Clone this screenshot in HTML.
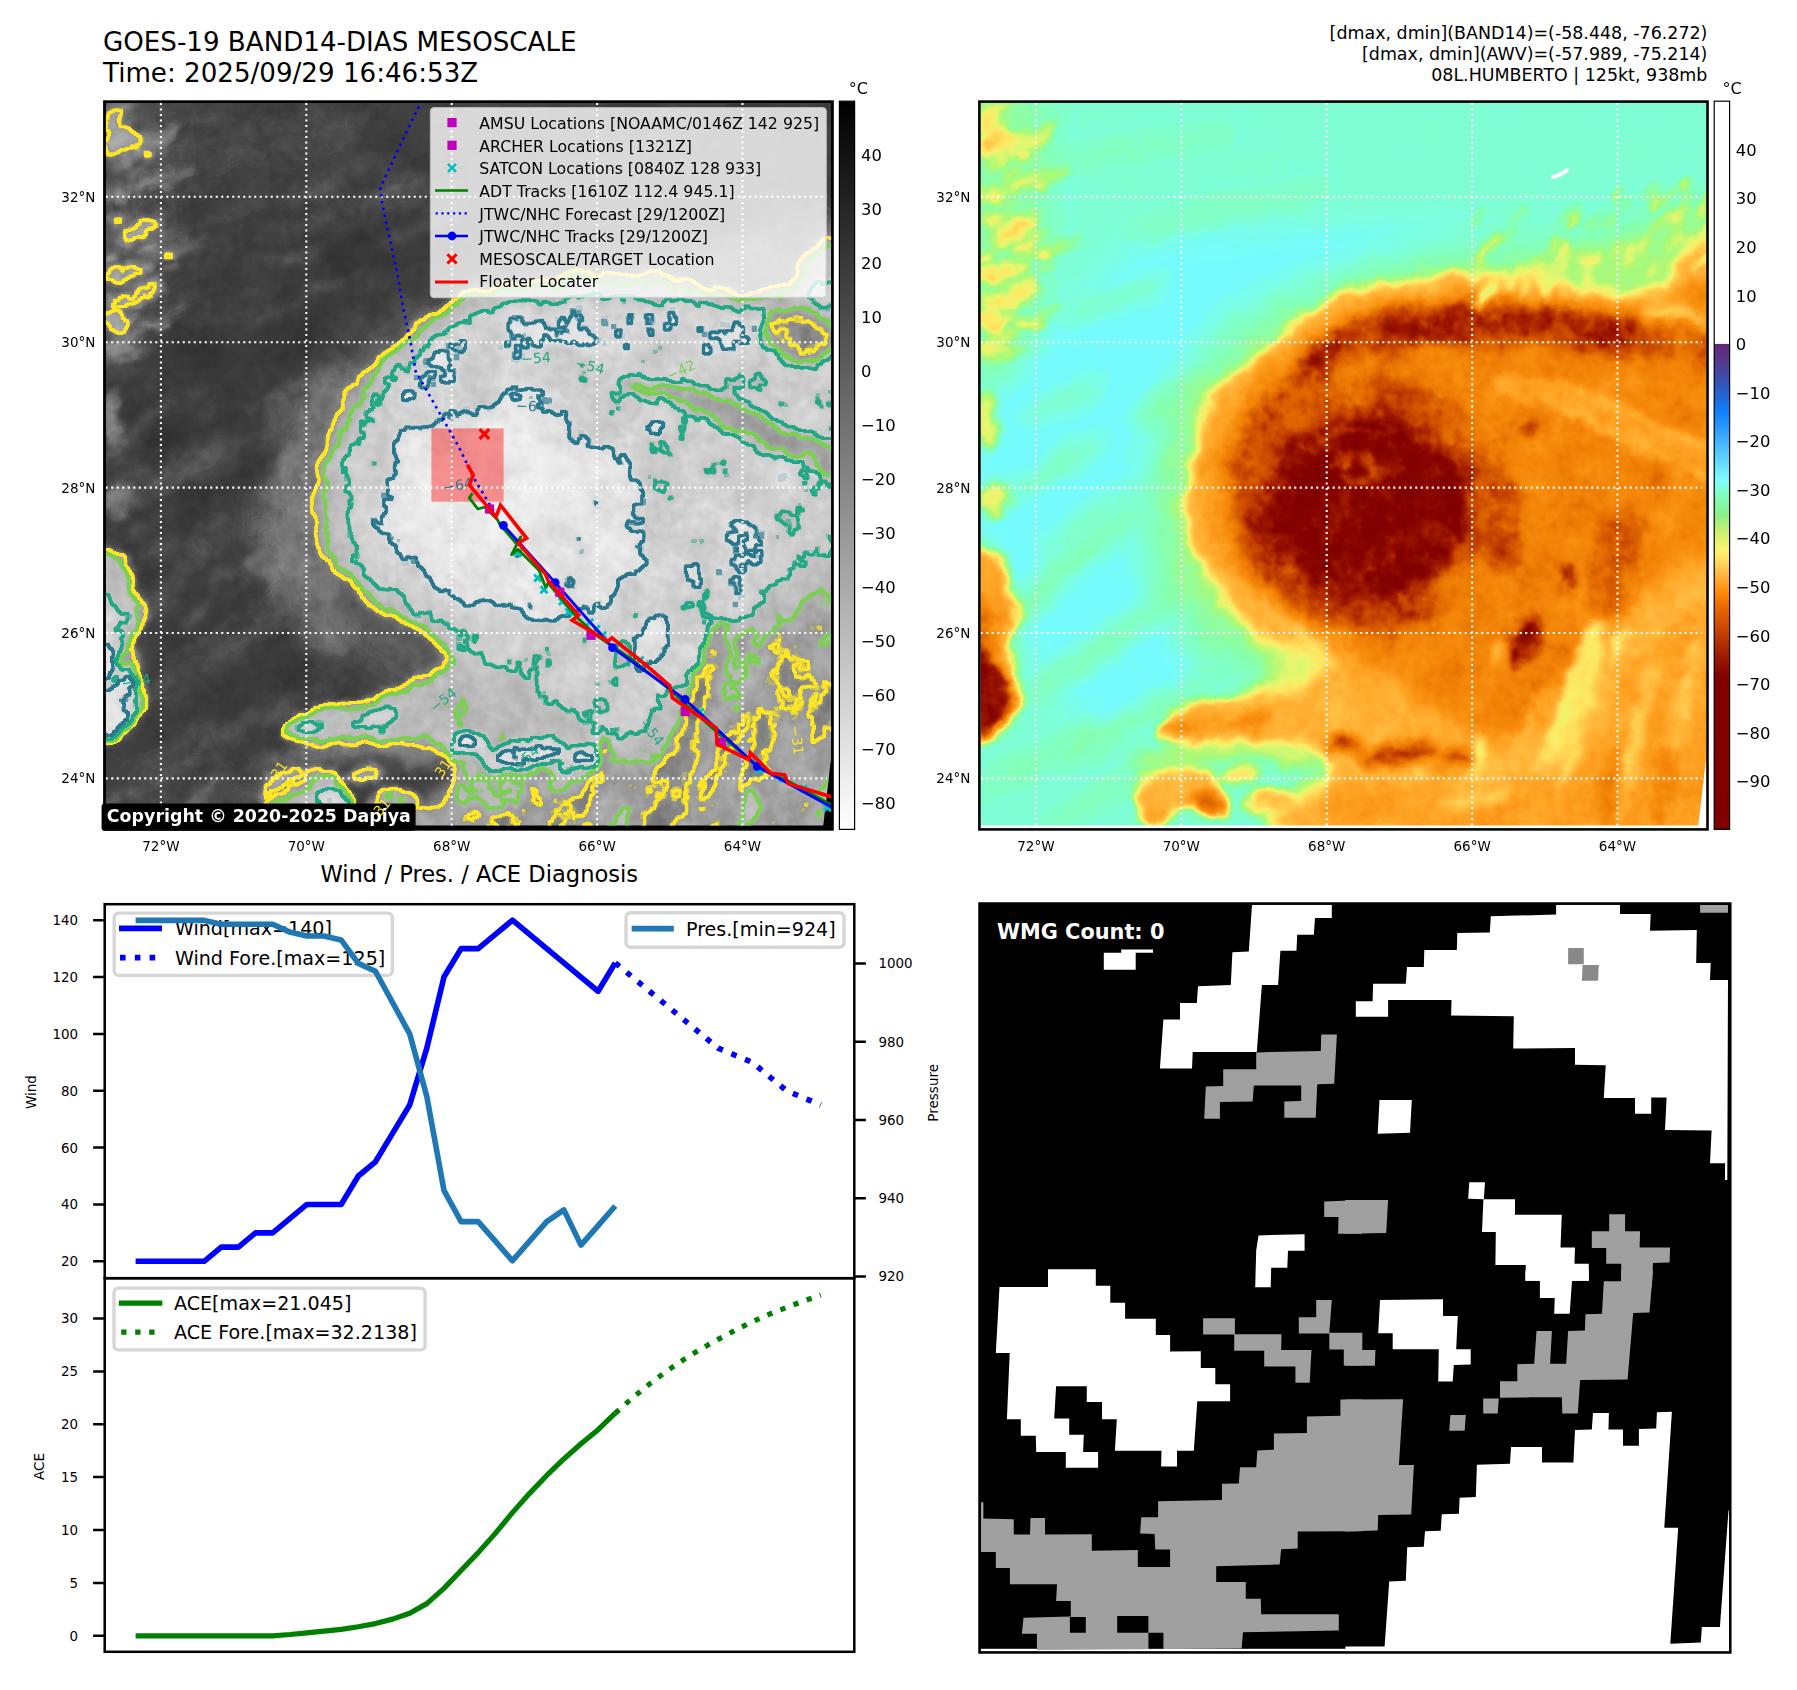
<!DOCTYPE html>
<html><head><meta charset="utf-8"><title>GOES-19 BAND14-DIAS MESOSCALE</title>
<style>html,body{margin:0;padding:0;background:#fff;overflow:hidden;} svg{display:block;} text{font-family:'DejaVu Sans','Liberation Sans',sans-serif;}</style>
</head><body>
<svg width="1797" height="1690" viewBox="0 0 1797 1690">
<rect width="1797" height="1690" fill="#fff"/>
<text x="103.00" y="51.30" font-size="26.13" text-anchor="start" fill="#000" >GOES-19 BAND14-DIAS MESOSCALE</text>
<text x="103.00" y="81.60" font-size="26.13" text-anchor="start" fill="#000" >Time: 2025/09/29 16:46:53Z</text>
<text x="1707.40" y="38.90" font-size="17.45" text-anchor="end" fill="#000" >[dmax, dmin](BAND14)=(-58.448, -76.272)</text>
<text x="1707.40" y="59.80" font-size="17.45" text-anchor="end" fill="#000" >[dmax, dmin](AWV)=(-57.989, -75.214)</text>
<text x="1707.40" y="80.90" font-size="17.45" text-anchor="end" fill="#000" >08L.HUMBERTO | 125kt, 938mb</text>
<defs><filter id="b2" x="-30%" y="-30%" width="160%" height="160%"><feGaussianBlur stdDeviation="2"/></filter><filter id="b3" x="-30%" y="-30%" width="160%" height="160%"><feGaussianBlur stdDeviation="3"/></filter><filter id="b4" x="-30%" y="-30%" width="160%" height="160%"><feGaussianBlur stdDeviation="4"/></filter><filter id="b5" x="-30%" y="-30%" width="160%" height="160%"><feGaussianBlur stdDeviation="5"/></filter><filter id="b6" x="-30%" y="-30%" width="160%" height="160%"><feGaussianBlur stdDeviation="6"/></filter><filter id="b8" x="-30%" y="-30%" width="160%" height="160%"><feGaussianBlur stdDeviation="8"/></filter><filter id="b10" x="-30%" y="-30%" width="160%" height="160%"><feGaussianBlur stdDeviation="10"/></filter><filter id="b12" x="-30%" y="-30%" width="160%" height="160%"><feGaussianBlur stdDeviation="12"/></filter><filter id="b14" x="-30%" y="-30%" width="160%" height="160%"><feGaussianBlur stdDeviation="14"/></filter><filter id="b16" x="-30%" y="-30%" width="160%" height="160%"><feGaussianBlur stdDeviation="16"/></filter><filter id="b20" x="-30%" y="-30%" width="160%" height="160%"><feGaussianBlur stdDeviation="20"/></filter><filter id="b25" x="-30%" y="-30%" width="160%" height="160%"><feGaussianBlur stdDeviation="25"/></filter><filter id="b40" x="-30%" y="-30%" width="160%" height="160%"><feGaussianBlur stdDeviation="40"/></filter><filter id="fL" filterUnits="userSpaceOnUse" x="92" y="90" width="750" height="750" color-interpolation-filters="sRGB"><feTurbulence type="fractalNoise" baseFrequency="0.035" numOctaves="3" seed="11" result="dn"/><feDisplacementMap in="SourceGraphic" in2="dn" scale="16" xChannelSelector="R" yChannelSelector="G" result="SG"/><feTurbulence type="fractalNoise" baseFrequency="0.022" numOctaves="2" seed="7" result="n0"/><feTurbulence type="fractalNoise" baseFrequency="0.09" numOctaves="2" seed="3" result="n1"/><feComposite in="n0" in2="n1" operator="arithmetic" k2="0.6" k3="0.4" result="n2"/><feColorMatrix in="n2" type="matrix" values="1 0 0 0 0  1 0 0 0 0  1 0 0 0 0  0 0 0 0 1" result="n"/><feComposite in="SG" in2="n" operator="arithmetic" k1="0.55" k2="0.725" k3="0" k4="0" result="F"/><feComponentTransfer in="F" result="G0"><feFuncR type="table" tableValues="0.2200 0.2307 0.2414 0.2540 0.2740 0.2981 0.3387 0.3794 0.4200 0.4600 0.5000 0.5400 0.5800 0.6050 0.6300 0.6550 0.6800 0.7031 0.7188 0.7344 0.7500 0.7625 0.7750 0.7875 0.8000 0.8125 0.8250 0.8375 0.8500 0.8619 0.8712 0.8806 0.8900 0.8962 0.9025 0.9088 0.9150 0.9188 0.9225 0.9263 0.9300"/><feFuncG type="table" tableValues="0.2200 0.2307 0.2414 0.2540 0.2740 0.2981 0.3387 0.3794 0.4200 0.4600 0.5000 0.5400 0.5800 0.6050 0.6300 0.6550 0.6800 0.7031 0.7188 0.7344 0.7500 0.7625 0.7750 0.7875 0.8000 0.8125 0.8250 0.8375 0.8500 0.8619 0.8712 0.8806 0.8900 0.8962 0.9025 0.9088 0.9150 0.9188 0.9225 0.9263 0.9300"/><feFuncB type="table" tableValues="0.2200 0.2307 0.2414 0.2540 0.2740 0.2981 0.3387 0.3794 0.4200 0.4600 0.5000 0.5400 0.5800 0.6050 0.6300 0.6550 0.6800 0.7031 0.7188 0.7344 0.7500 0.7625 0.7750 0.7875 0.8000 0.8125 0.8250 0.8375 0.8500 0.8619 0.8712 0.8806 0.8900 0.8962 0.9025 0.9088 0.9150 0.9188 0.9225 0.9263 0.9300"/></feComponentTransfer><feComposite in="G0" in2="n" operator="arithmetic" k2="1" k3="0.12" k4="-0.06" result="G"/></filter><filter id="fLc" filterUnits="userSpaceOnUse" x="92" y="90" width="750" height="750" color-interpolation-filters="sRGB"><feTurbulence type="fractalNoise" baseFrequency="0.035" numOctaves="3" seed="11" result="dn"/><feDisplacementMap in="SourceGraphic" in2="dn" scale="16" xChannelSelector="R" yChannelSelector="G" result="SG"/><feTurbulence type="fractalNoise" baseFrequency="0.022" numOctaves="2" seed="7" result="n0"/><feTurbulence type="fractalNoise" baseFrequency="0.09" numOctaves="2" seed="3" result="n1"/><feComposite in="n0" in2="n1" operator="arithmetic" k2="0.6" k3="0.4" result="n2"/><feColorMatrix in="n2" type="matrix" values="1 0 0 0 0  1 0 0 0 0  1 0 0 0 0  0 0 0 0 1" result="n"/><feComposite in="SG" in2="n" operator="arithmetic" k1="0.55" k2="0.725" k3="0" k4="0" result="F"/><feColorMatrix in="F" type="matrix" values="0 0 0 0 0  0 0 0 0 0  0 0 0 0 0  1 0 0 0 0" result="FA"/><feComponentTransfer in="FA" result="M0"><feFuncA type="linear" slope="120" intercept="-36.000"/></feComponentTransfer><feMorphology in="M0" operator="dilate" radius="1.5" result="D0"/><feMorphology in="M0" operator="erode" radius="1" result="E0"/><feComposite in="D0" in2="E0" operator="out" result="R0"/><feFlood flood-color="#fde725" result="fl0"/><feComposite in="fl0" in2="R0" operator="in" result="C0"/><feComponentTransfer in="FA" result="M1"><feFuncA type="linear" slope="120" intercept="-50.400"/></feComponentTransfer><feMorphology in="M1" operator="dilate" radius="1.5" result="D1"/><feMorphology in="M1" operator="erode" radius="1" result="E1"/><feComposite in="D1" in2="E1" operator="out" result="R1"/><feFlood flood-color="#7ad151" result="fl1"/><feComposite in="fl1" in2="R1" operator="in" result="C1"/><feComponentTransfer in="FA" result="M2"><feFuncA type="linear" slope="120" intercept="-67.200"/></feComponentTransfer><feMorphology in="M2" operator="dilate" radius="1.5" result="D2"/><feMorphology in="M2" operator="erode" radius="1" result="E2"/><feComposite in="D2" in2="E2" operator="out" result="R2"/><feFlood flood-color="#22a884" result="fl2"/><feComposite in="fl2" in2="R2" operator="in" result="C2"/><feComponentTransfer in="FA" result="M3"><feFuncA type="linear" slope="120" intercept="-86.400"/></feComponentTransfer><feMorphology in="M3" operator="dilate" radius="1.5" result="D3"/><feMorphology in="M3" operator="erode" radius="1" result="E3"/><feComposite in="D3" in2="E3" operator="out" result="R3"/><feFlood flood-color="#2a788e" result="fl3"/><feComposite in="fl3" in2="R3" operator="in" result="C3"/><feMerge><feMergeNode in="C0"/><feMergeNode in="C1"/><feMergeNode in="C2"/><feMergeNode in="C3"/></feMerge></filter><filter id="fR" filterUnits="userSpaceOnUse" x="92" y="90" width="750" height="750" color-interpolation-filters="sRGB"><feTurbulence type="fractalNoise" baseFrequency="0.035" numOctaves="3" seed="11" result="dn"/><feDisplacementMap in="SourceGraphic" in2="dn" scale="16" xChannelSelector="R" yChannelSelector="G" result="SG"/><feTurbulence type="fractalNoise" baseFrequency="0.022" numOctaves="2" seed="7" result="n0"/><feTurbulence type="fractalNoise" baseFrequency="0.09" numOctaves="2" seed="3" result="n1"/><feComposite in="n0" in2="n1" operator="arithmetic" k2="0.6" k3="0.4" result="n2"/><feColorMatrix in="n2" type="matrix" values="1 0 0 0 0  1 0 0 0 0  1 0 0 0 0  0 0 0 0 1" result="n"/><feComposite in="SG" in2="n" operator="arithmetic" k1="0.4" k2="0.8" k3="0" k4="0" result="F"/><feComponentTransfer in="F"><feFuncR type="table" tableValues="0.4627 0.4768 0.4908 0.5033 0.5098 0.5163 0.5602 0.6134 0.6667 0.7463 0.8260 0.9056 0.9477 0.9804 1.0000 1.0000 1.0000 1.0000 1.0000 1.0000 1.0000 0.9914 0.9828 0.9743 0.9621 0.9490 0.9294 0.9000 0.8706 0.8281 0.7856 0.7333 0.6745 0.6180 0.5710 0.5302 0.5145 0.5020 0.5020 0.5020 0.5020"/><feFuncG type="table" tableValues="0.9882 0.9924 0.9966 1.0000 1.0000 1.0000 0.9944 0.9874 0.9804 0.9755 0.9706 0.9657 0.9464 0.9235 0.8922 0.8480 0.8039 0.7613 0.7245 0.6877 0.6510 0.6216 0.5922 0.5627 0.5386 0.5157 0.4837 0.4379 0.3922 0.3366 0.2810 0.2196 0.1542 0.0941 0.0549 0.0212 0.0094 0.0000 0.0000 0.0000 0.0000"/><feFuncB type="table" tableValues="0.9882 0.9322 0.8762 0.8203 0.7647 0.7092 0.6331 0.5518 0.4706 0.4583 0.4461 0.4338 0.4183 0.4020 0.3784 0.3441 0.3098 0.2745 0.2353 0.1961 0.1569 0.1250 0.0931 0.0613 0.0444 0.0314 0.0196 0.0098 0.0000 0.0000 0.0000 0.0000 0.0000 0.0000 0.0000 0.0000 0.0000 0.0000 0.0000 0.0000 0.0000"/><feFuncA type="identity"/></feComponentTransfer></filter>
<g id="field"><rect x="95" y="92" width="750" height="750" fill="rgb(18,18,18)"/>
<g filter="url(#b16)">
<path d="M105.0,350.0 C117.5,311.7 157.5,345.0 180.0,330.0 C202.5,315.0 215.0,276.3 240.0,260.0 C265.0,243.7 300.0,237.3 330.0,232.0 C360.0,226.7 381.7,228.7 420.0,228.0 C458.3,227.3 526.7,226.0 560.0,228.0 C593.3,230.0 620.0,234.3 620.0,240.0 C620.0,245.7 586.7,252.7 560.0,262.0 C533.3,271.3 491.7,280.5 460.0,296.0 C428.3,311.5 394.7,331.0 370.0,355.0 C345.3,379.0 324.3,409.2 312.0,440.0 C299.7,470.8 297.2,506.7 296.0,540.0 C294.8,573.3 301.0,613.3 305.0,640.0 C309.0,666.7 327.5,684.2 320.0,700.0 C312.5,715.8 279.2,732.5 260.0,735.0 C240.8,737.5 230.8,744.2 205.0,715.0 C179.2,685.8 121.7,620.8 105.0,560.0 C88.3,499.2 92.5,388.3 105.0,350.0Z" fill="rgb(3,3,3)"/>
</g>
<g filter="url(#b10)">
<ellipse cx="200" cy="560" rx="90" ry="10" transform="rotate(-38 200 560)" fill="rgb(43,43,43)"/>
<ellipse cx="235" cy="640" rx="110" ry="9" transform="rotate(-36 235 640)" fill="rgb(41,41,41)"/>
<ellipse cx="175" cy="470" rx="70" ry="8" transform="rotate(-30 175 470)" fill="rgb(38,38,38)"/>
<ellipse cx="262" cy="720" rx="90" ry="9" transform="rotate(-30 262 720)" fill="rgb(41,41,41)"/>
<ellipse cx="150" cy="610" rx="60" ry="7" transform="rotate(-40 150 610)" fill="rgb(41,41,41)"/>
<ellipse cx="210" cy="520" rx="60" ry="6" transform="rotate(-35 210 520)" fill="rgb(41,41,41)"/>
<ellipse cx="330" cy="470" rx="40" ry="60" transform="rotate(0 330 470)" fill="rgb(36,36,36)"/>
<ellipse cx="350" cy="210" rx="110" ry="8" transform="rotate(-12 350 210)" fill="rgb(36,36,36)"/>
<ellipse cx="250" cy="150" rx="120" ry="7" transform="rotate(-10 250 150)" fill="rgb(33,33,33)"/>
<ellipse cx="300" cy="400" rx="50" ry="12" transform="rotate(-30 300 400)" fill="rgb(38,38,38)"/>
<ellipse cx="190" cy="400" rx="50" ry="8" transform="rotate(-25 190 400)" fill="rgb(36,36,36)"/>
<ellipse cx="240" cy="300" rx="60" ry="8" transform="rotate(-20 240 300)" fill="rgb(33,33,33)"/>
<ellipse cx="160" cy="760" rx="70" ry="8" transform="rotate(-30 160 760)" fill="rgb(38,38,38)"/>
<ellipse cx="220" cy="800" rx="60" ry="7" transform="rotate(-30 220 800)" fill="rgb(38,38,38)"/>
</g>
<g filter="url(#b20)">
<path d="M400.0,300.0 C361.7,316.7 349.2,328.3 330.0,350.0 C310.8,371.7 295.0,401.7 285.0,430.0 C275.0,458.3 270.0,491.7 270.0,520.0 C270.0,548.3 273.3,578.3 285.0,600.0 C296.7,621.7 317.5,633.3 340.0,650.0 C362.5,666.7 400.0,688.3 420.0,700.0 C440.0,711.7 430.0,716.7 460.0,720.0 C490.0,723.3 535.8,723.3 600.0,720.0 C664.2,716.7 804.2,781.7 845.0,700.0 C885.8,618.3 869.2,305.0 845.0,230.0 C820.8,155.0 747.5,246.7 700.0,250.0 C652.5,253.3 610.0,241.7 560.0,250.0 C510.0,258.3 438.3,283.3 400.0,300.0Z" fill="rgb(43,43,43)"/>
</g>
<g filter="url(#b12)">
<path d="M640.0,265.0 C643.3,256.7 685.8,256.7 720.0,250.0 C754.2,243.3 824.2,218.3 845.0,225.0 C865.8,231.7 869.2,277.5 845.0,290.0 C820.8,302.5 734.2,304.2 700.0,300.0 C665.8,295.8 636.7,273.3 640.0,265.0Z" fill="rgb(51,51,51)"/>
</g>
<g filter="url(#b14)">
<path d="M95.0,100.0 C107.5,55.0 156.7,83.3 170.0,100.0 C183.3,116.7 175.8,166.7 175.0,200.0 C174.2,233.3 169.2,273.3 165.0,300.0 C160.8,326.7 161.7,348.3 150.0,360.0 C138.3,371.7 104.2,413.3 95.0,370.0 C85.8,326.7 82.5,145.0 95.0,100.0Z" fill="rgb(38,38,38)"/>
</g>
<g filter="url(#b5)">
<ellipse cx="122" cy="142" rx="22" ry="13" transform="rotate(-10 122 142)" fill="rgb(117,117,117)"/>
<ellipse cx="118" cy="195" rx="10" ry="8" transform="rotate(0 118 195)" fill="rgb(92,92,92)"/>
<ellipse cx="140" cy="228" rx="24" ry="8" transform="rotate(-20 140 228)" fill="rgb(102,102,102)"/>
<ellipse cx="122" cy="272" rx="18" ry="6" transform="rotate(-15 122 272)" fill="rgb(87,87,87)"/>
<ellipse cx="135" cy="295" rx="28" ry="8" transform="rotate(-20 135 295)" fill="rgb(97,97,97)"/>
<ellipse cx="118" cy="326" rx="10" ry="5" transform="rotate(0 118 326)" fill="rgb(84,84,84)"/>
<ellipse cx="160" cy="180" rx="40" ry="6" transform="rotate(-12 160 180)" fill="rgb(61,61,61)"/>
<ellipse cx="170" cy="250" rx="40" ry="6" transform="rotate(-15 170 250)" fill="rgb(56,56,56)"/>
<ellipse cx="112" cy="420" rx="10" ry="30" transform="rotate(0 112 420)" fill="rgb(76,76,76)"/>
<ellipse cx="120" cy="500" rx="14" ry="18" transform="rotate(0 120 500)" fill="rgb(71,71,71)"/>
<ellipse cx="150" cy="140" rx="30" ry="8" transform="rotate(-10 150 140)" fill="rgb(76,76,76)"/>
</g>
<g filter="url(#b3)">
<ellipse cx="150" cy="322" rx="8" ry="3.1" transform="rotate(-8 150 322)" fill="rgb(102,102,102)"/>
<ellipse cx="126" cy="154" rx="12" ry="3.0" transform="rotate(-20 126 154)" fill="rgb(105,105,105)"/>
<ellipse cx="142" cy="355" rx="12" ry="2.3" transform="rotate(-26 142 355)" fill="rgb(79,79,79)"/>
<ellipse cx="112" cy="119" rx="12" ry="3.3" transform="rotate(-22 112 119)" fill="rgb(98,98,98)"/>
<ellipse cx="145" cy="286" rx="6" ry="1.6" transform="rotate(-6 145 286)" fill="rgb(67,67,67)"/>
<ellipse cx="124" cy="162" rx="15" ry="3.4" transform="rotate(-31 124 162)" fill="rgb(69,69,69)"/>
<ellipse cx="106" cy="107" rx="11" ry="2.3" transform="rotate(-23 106 107)" fill="rgb(61,61,61)"/>
<ellipse cx="133" cy="134" rx="5" ry="3.7" transform="rotate(-13 133 134)" fill="rgb(82,82,82)"/>
<ellipse cx="119" cy="137" rx="8" ry="1.6" transform="rotate(-27 119 137)" fill="rgb(62,62,62)"/>
<ellipse cx="119" cy="156" rx="12" ry="2.6" transform="rotate(-21 119 156)" fill="rgb(71,71,71)"/>
<ellipse cx="165" cy="187" rx="6" ry="2.7" transform="rotate(-24 165 187)" fill="rgb(95,95,95)"/>
<ellipse cx="120" cy="134" rx="15" ry="1.5" transform="rotate(-19 120 134)" fill="rgb(76,76,76)"/>
<ellipse cx="134" cy="291" rx="7" ry="2.7" transform="rotate(-17 134 291)" fill="rgb(53,53,53)"/>
<ellipse cx="172" cy="128" rx="12" ry="3.3" transform="rotate(-21 172 128)" fill="rgb(75,75,75)"/>
<ellipse cx="132" cy="337" rx="16" ry="2.7" transform="rotate(-34 132 337)" fill="rgb(73,73,73)"/>
<ellipse cx="106" cy="318" rx="9" ry="1.8" transform="rotate(-29 106 318)" fill="rgb(91,91,91)"/>
<ellipse cx="126" cy="270" rx="13" ry="3.9" transform="rotate(-10 126 270)" fill="rgb(75,75,75)"/>
<ellipse cx="125" cy="320" rx="15" ry="3.7" transform="rotate(-12 125 320)" fill="rgb(84,84,84)"/>
<ellipse cx="173" cy="271" rx="13" ry="2.1" transform="rotate(-32 173 271)" fill="rgb(66,66,66)"/>
<ellipse cx="110" cy="260" rx="11" ry="2.0" transform="rotate(-29 110 260)" fill="rgb(104,104,104)"/>
<ellipse cx="177" cy="310" rx="11" ry="4.0" transform="rotate(-15 177 310)" fill="rgb(51,51,51)"/>
<ellipse cx="140" cy="354" rx="10" ry="3.8" transform="rotate(-11 140 354)" fill="rgb(59,59,59)"/>
<ellipse cx="112" cy="312" rx="14" ry="2.1" transform="rotate(-32 112 312)" fill="rgb(72,72,72)"/>
<ellipse cx="107" cy="317" rx="13" ry="3.7" transform="rotate(-6 107 317)" fill="rgb(93,93,93)"/>
<ellipse cx="108" cy="107" rx="14" ry="3.0" transform="rotate(-25 108 107)" fill="rgb(58,58,58)"/>
<ellipse cx="110" cy="193" rx="9" ry="2.7" transform="rotate(-22 110 193)" fill="rgb(62,62,62)"/>
<ellipse cx="126" cy="139" rx="6" ry="2.5" transform="rotate(-31 126 139)" fill="rgb(96,96,96)"/>
<ellipse cx="117" cy="249" rx="10" ry="3.1" transform="rotate(-28 117 249)" fill="rgb(52,52,52)"/>
<ellipse cx="133" cy="201" rx="8" ry="2.3" transform="rotate(-10 133 201)" fill="rgb(51,51,51)"/>
<ellipse cx="120" cy="224" rx="9" ry="2.2" transform="rotate(-13 120 224)" fill="rgb(64,64,64)"/>
<ellipse cx="125" cy="364" rx="9" ry="1.8" transform="rotate(-6 125 364)" fill="rgb(87,87,87)"/>
<ellipse cx="110" cy="358" rx="9" ry="3.5" transform="rotate(-34 110 358)" fill="rgb(64,64,64)"/>
<ellipse cx="117" cy="314" rx="9" ry="3.7" transform="rotate(-33 117 314)" fill="rgb(86,86,86)"/>
<ellipse cx="146" cy="155" rx="7" ry="3.7" transform="rotate(-22 146 155)" fill="rgb(97,97,97)"/>
<ellipse cx="117" cy="345" rx="12" ry="2.1" transform="rotate(-15 117 345)" fill="rgb(104,104,104)"/>
<ellipse cx="160" cy="317" rx="10" ry="2.5" transform="rotate(-32 160 317)" fill="rgb(94,94,94)"/>
<ellipse cx="118" cy="114" rx="7" ry="2.5" transform="rotate(-21 118 114)" fill="rgb(61,61,61)"/>
<ellipse cx="126" cy="217" rx="13" ry="1.7" transform="rotate(-31 126 217)" fill="rgb(80,80,80)"/>
<ellipse cx="169" cy="256" rx="6" ry="3.7" transform="rotate(-5 169 256)" fill="rgb(101,101,101)"/>
<ellipse cx="149" cy="246" rx="9" ry="3.0" transform="rotate(-11 149 246)" fill="rgb(107,107,107)"/>
<ellipse cx="147" cy="187" rx="11" ry="2.9" transform="rotate(-27 147 187)" fill="rgb(77,77,77)"/>
<ellipse cx="107" cy="348" rx="8" ry="2.1" transform="rotate(-26 107 348)" fill="rgb(99,99,99)"/>
<ellipse cx="127" cy="351" rx="15" ry="3.5" transform="rotate(-29 127 351)" fill="rgb(76,76,76)"/>
<ellipse cx="167" cy="323" rx="8" ry="3.0" transform="rotate(-9 167 323)" fill="rgb(103,103,103)"/>
<ellipse cx="115" cy="113" rx="8" ry="2.9" transform="rotate(-27 115 113)" fill="rgb(97,97,97)"/>
<ellipse cx="119" cy="277" rx="12" ry="3.6" transform="rotate(-25 119 277)" fill="rgb(87,87,87)"/>
<ellipse cx="122" cy="135" rx="14" ry="3.8" transform="rotate(-34 122 135)" fill="rgb(91,91,91)"/>
<ellipse cx="128" cy="122" rx="10" ry="2.3" transform="rotate(-8 128 122)" fill="rgb(75,75,75)"/>
<ellipse cx="138" cy="172" rx="8" ry="1.7" transform="rotate(-35 138 172)" fill="rgb(82,82,82)"/>
<ellipse cx="107" cy="301" rx="12" ry="2.1" transform="rotate(-5 107 301)" fill="rgb(55,55,55)"/>
<ellipse cx="134" cy="153" rx="16" ry="3.3" transform="rotate(-31 134 153)" fill="rgb(61,61,61)"/>
<ellipse cx="118" cy="320" rx="9" ry="2.3" transform="rotate(-26 118 320)" fill="rgb(69,69,69)"/>
<ellipse cx="131" cy="262" rx="6" ry="2.8" transform="rotate(-17 131 262)" fill="rgb(69,69,69)"/>
<ellipse cx="121" cy="335" rx="15" ry="3.1" transform="rotate(-23 121 335)" fill="rgb(60,60,60)"/>
<ellipse cx="125" cy="149" rx="11" ry="2.0" transform="rotate(-16 125 149)" fill="rgb(94,94,94)"/>
<ellipse cx="126" cy="108" rx="12" ry="2.0" transform="rotate(-25 126 108)" fill="rgb(92,92,92)"/>
<ellipse cx="135" cy="305" rx="9" ry="3.9" transform="rotate(-30 135 305)" fill="rgb(88,88,88)"/>
<ellipse cx="112" cy="127" rx="11" ry="3.4" transform="rotate(-8 112 127)" fill="rgb(94,94,94)"/>
<ellipse cx="139" cy="272" rx="12" ry="3.0" transform="rotate(-14 139 272)" fill="rgb(93,93,93)"/>
<ellipse cx="116" cy="353" rx="12" ry="3.7" transform="rotate(-13 116 353)" fill="rgb(72,72,72)"/>
<ellipse cx="116" cy="325" rx="15" ry="3.7" transform="rotate(-8 116 325)" fill="rgb(90,90,90)"/>
<ellipse cx="137" cy="237" rx="8" ry="3.1" transform="rotate(-8 137 237)" fill="rgb(71,71,71)"/>
<ellipse cx="119" cy="346" rx="7" ry="1.8" transform="rotate(-32 119 346)" fill="rgb(82,82,82)"/>
<ellipse cx="162" cy="325" rx="8" ry="3.5" transform="rotate(-34 162 325)" fill="rgb(63,63,63)"/>
<ellipse cx="161" cy="236" rx="13" ry="2.4" transform="rotate(-24 161 236)" fill="rgb(80,80,80)"/>
<ellipse cx="122" cy="106" rx="7" ry="2.4" transform="rotate(-15 122 106)" fill="rgb(62,62,62)"/>
<ellipse cx="109" cy="277" rx="10" ry="3.5" transform="rotate(-14 109 277)" fill="rgb(97,97,97)"/>
<ellipse cx="117" cy="219" rx="9" ry="2.1" transform="rotate(-24 117 219)" fill="rgb(101,101,101)"/>
<ellipse cx="115" cy="164" rx="6" ry="2.3" transform="rotate(-30 115 164)" fill="rgb(52,52,52)"/>
</g>
<g filter="url(#b6)">
<path d="M95.0,558.0 C99.8,529.3 116.5,554.2 124.0,562.0 C131.5,569.8 137.8,590.0 140.0,605.0 C142.2,620.0 136.5,636.2 137.0,652.0 C137.5,667.8 144.2,687.7 143.0,700.0 C141.8,712.3 138.0,720.3 130.0,726.0 C122.0,731.7 100.8,762.0 95.0,734.0 C89.2,706.0 90.2,586.7 95.0,558.0Z" fill="rgb(133,133,133)"/>
<path d="M95.0,600.0 C98.2,585.3 109.5,603.7 114.0,612.0 C118.5,620.3 121.3,637.0 122.0,650.0 C122.7,663.0 122.5,681.7 118.0,690.0 C113.5,698.3 98.8,715.0 95.0,700.0 C91.2,685.0 91.8,614.7 95.0,600.0Z" fill="rgb(168,168,168)"/>
<path d="M95.0,655.0 C99.2,643.7 113.2,654.2 120.0,660.0 C126.8,665.8 135.0,679.7 136.0,690.0 C137.0,700.3 132.8,715.7 126.0,722.0 C119.2,728.3 100.2,739.2 95.0,728.0 C89.8,716.8 90.8,666.3 95.0,655.0Z" fill="rgb(219,219,219)"/>
</g>
<g filter="url(#b6)">
<path d="M406.0,340.0 C394.8,349.5 375.7,361.2 363.0,372.0 C350.3,382.8 337.5,388.7 330.0,405.0 C322.5,421.3 321.2,449.5 318.0,470.0 C314.8,490.5 309.5,513.0 311.0,528.0 C312.5,543.0 318.2,548.3 327.0,560.0 C335.8,571.7 349.8,587.0 364.0,598.0 C378.2,609.0 397.3,616.0 412.0,626.0 C426.7,636.0 450.7,649.3 452.0,658.0 C453.3,666.7 430.7,672.0 420.0,678.0 C409.3,684.0 405.5,688.7 388.0,694.0 C370.5,699.3 332.2,704.3 315.0,710.0 C297.8,715.7 287.5,722.7 285.0,728.0 C282.5,733.3 287.5,738.7 300.0,742.0 C312.5,745.3 338.3,746.7 360.0,748.0 C381.7,749.3 414.2,746.3 430.0,750.0 C445.8,753.7 452.5,761.7 455.0,770.0 C457.5,778.3 449.2,789.2 445.0,800.0 C440.8,810.8 363.3,829.2 430.0,835.0 C496.7,840.8 775.8,928.8 845.0,835.0 C914.2,741.2 855.8,363.2 845.0,272.0 C834.2,180.8 800.8,284.3 780.0,288.0 C759.2,291.7 740.0,296.0 720.0,294.0 C700.0,292.0 680.0,279.5 660.0,276.0 C640.0,272.5 620.0,272.3 600.0,273.0 C580.0,273.7 560.0,276.8 540.0,280.0 C520.0,283.2 498.3,286.2 480.0,292.0 C461.7,297.8 442.3,307.0 430.0,315.0 C417.7,323.0 417.2,330.5 406.0,340.0Z" fill="rgb(120,120,120)"/>
</g>
<g filter="url(#b14)">
<path d="M440.0,790.0 C455.0,780.0 493.3,778.0 520.0,775.0 C546.7,772.0 570.0,777.0 600.0,772.0 C630.0,767.0 673.3,765.3 700.0,745.0 C726.7,724.7 735.8,672.5 760.0,650.0 C784.2,627.5 830.8,579.2 845.0,610.0 C859.2,640.8 914.2,797.5 845.0,835.0 C775.8,872.5 497.5,842.5 430.0,835.0 C362.5,827.5 425.0,800.0 440.0,790.0Z" fill="rgb(82,82,82)"/>
</g>
<g filter="url(#b8)">
<ellipse cx="330" cy="752" rx="80" ry="12" transform="rotate(-5 330 752)" fill="rgb(56,56,56)"/>
<ellipse cx="300" cy="780" rx="40" ry="10" transform="rotate(0 300 780)" fill="rgb(64,64,64)"/>
<ellipse cx="420" cy="757" rx="30" ry="10" transform="rotate(0 420 757)" fill="rgb(71,71,71)"/>
</g>
<g filter="url(#b10)">
<path d="M420.0,352.0 C403.7,363.2 393.7,372.0 382.0,385.0 C370.3,398.0 357.0,414.2 350.0,430.0 C343.0,445.8 341.3,463.3 340.0,480.0 C338.7,496.7 337.3,513.7 342.0,530.0 C346.7,546.3 355.8,564.3 368.0,578.0 C380.2,591.7 398.3,600.8 415.0,612.0 C431.7,623.2 450.5,633.7 468.0,645.0 C485.5,656.3 504.7,668.8 520.0,680.0 C535.3,691.2 545.0,702.8 560.0,712.0 C575.0,721.2 594.2,732.3 610.0,735.0 C625.8,737.7 640.0,737.2 655.0,728.0 C670.0,718.8 684.2,698.8 700.0,680.0 C715.8,661.2 733.3,635.0 750.0,615.0 C766.7,595.0 784.2,572.5 800.0,560.0 C815.8,547.5 837.5,583.3 845.0,540.0 C852.5,496.7 855.8,339.2 845.0,300.0 C834.2,260.8 804.2,305.0 780.0,305.0 C755.8,305.0 726.7,301.3 700.0,300.0 C673.3,298.7 646.7,296.7 620.0,297.0 C593.3,297.3 563.3,298.5 540.0,302.0 C516.7,305.5 500.0,309.7 480.0,318.0 C460.0,326.3 436.3,340.8 420.0,352.0Z" fill="rgb(158,158,158)"/>
</g>
<g filter="url(#b5)">
<path d="M455.0,690.0 C443.3,685.8 420.8,696.3 400.0,700.0 C379.2,703.7 349.2,707.3 330.0,712.0 C310.8,716.7 290.0,723.3 285.0,728.0 C280.0,732.7 287.5,738.3 300.0,740.0 C312.5,741.7 340.0,739.7 360.0,738.0 C380.0,736.3 401.7,732.2 420.0,730.0 C438.3,727.8 464.2,731.7 470.0,725.0 C475.8,718.3 466.7,694.2 455.0,690.0Z" fill="rgb(120,120,120)"/>
<ellipse cx="330" cy="722" rx="40" ry="9" transform="rotate(-8 330 722)" fill="rgb(148,148,148)"/>
<ellipse cx="375" cy="718" rx="22" ry="8" transform="rotate(-8 375 718)" fill="rgb(158,158,158)"/>
<ellipse cx="300" cy="790" rx="42" ry="20" transform="rotate(-10 300 790)" fill="rgb(117,117,117)"/>
<ellipse cx="335" cy="805" rx="20" ry="12" transform="rotate(0 335 805)" fill="rgb(173,173,173)"/>
<ellipse cx="280" cy="815" rx="18" ry="10" transform="rotate(0 280 815)" fill="rgb(133,133,133)"/>
<ellipse cx="395" cy="800" rx="25" ry="12" transform="rotate(0 395 800)" fill="rgb(102,102,102)"/>
<ellipse cx="430" cy="820" rx="25" ry="10" transform="rotate(0 430 820)" fill="rgb(107,107,107)"/>
<ellipse cx="520" cy="790" rx="60" ry="14" transform="rotate(-8 520 790)" fill="rgb(107,107,107)"/>
<ellipse cx="365" cy="775" rx="20" ry="8" transform="rotate(-10 365 775)" fill="rgb(92,92,92)"/>
</g>
<g filter="url(#b4)">
<ellipse cx="606" cy="775" rx="5.5" ry="21" transform="rotate(19 606 775)" fill="rgb(112,112,112)"/>
<ellipse cx="786" cy="740" rx="5.0" ry="16" transform="rotate(15 786 740)" fill="rgb(102,102,102)"/>
<ellipse cx="821" cy="723" rx="3.6" ry="26" transform="rotate(33 821 723)" fill="rgb(61,61,61)"/>
<ellipse cx="682" cy="834" rx="6.1" ry="19" transform="rotate(24 682 834)" fill="rgb(102,102,102)"/>
<ellipse cx="711" cy="775" rx="5.6" ry="29" transform="rotate(15 711 775)" fill="rgb(61,61,61)"/>
<ellipse cx="595" cy="821" rx="4.8" ry="22" transform="rotate(22 595 821)" fill="rgb(112,112,112)"/>
<ellipse cx="602" cy="770" rx="4.9" ry="27" transform="rotate(16 602 770)" fill="rgb(69,69,69)"/>
<ellipse cx="618" cy="829" rx="6.6" ry="26" transform="rotate(30 618 829)" fill="rgb(122,122,122)"/>
<ellipse cx="837" cy="654" rx="5.2" ry="22" transform="rotate(23 837 654)" fill="rgb(102,102,102)"/>
<ellipse cx="818" cy="813" rx="4.6" ry="19" transform="rotate(24 818 813)" fill="rgb(112,112,112)"/>
<ellipse cx="649" cy="734" rx="4.1" ry="27" transform="rotate(18 649 734)" fill="rgb(112,112,112)"/>
<ellipse cx="728" cy="742" rx="5.3" ry="18" transform="rotate(35 728 742)" fill="rgb(61,61,61)"/>
<ellipse cx="657" cy="821" rx="4.4" ry="23" transform="rotate(21 657 821)" fill="rgb(61,61,61)"/>
<ellipse cx="607" cy="820" rx="3.7" ry="20" transform="rotate(18 607 820)" fill="rgb(61,61,61)"/>
<ellipse cx="749" cy="815" rx="6.8" ry="19" transform="rotate(35 749 815)" fill="rgb(122,122,122)"/>
<ellipse cx="702" cy="770" rx="6.7" ry="16" transform="rotate(26 702 770)" fill="rgb(112,112,112)"/>
<ellipse cx="785" cy="791" rx="4.9" ry="27" transform="rotate(16 785 791)" fill="rgb(102,102,102)"/>
<ellipse cx="744" cy="647" rx="4.0" ry="19" transform="rotate(32 744 647)" fill="rgb(69,69,69)"/>
<ellipse cx="835" cy="785" rx="4.9" ry="17" transform="rotate(34 835 785)" fill="rgb(122,122,122)"/>
<ellipse cx="815" cy="733" rx="6.8" ry="28" transform="rotate(22 815 733)" fill="rgb(69,69,69)"/>
<ellipse cx="807" cy="757" rx="4.7" ry="22" transform="rotate(32 807 757)" fill="rgb(102,102,102)"/>
<ellipse cx="599" cy="755" rx="3.6" ry="25" transform="rotate(23 599 755)" fill="rgb(69,69,69)"/>
<ellipse cx="827" cy="645" rx="5.4" ry="24" transform="rotate(32 827 645)" fill="rgb(122,122,122)"/>
<ellipse cx="678" cy="773" rx="6.0" ry="27" transform="rotate(18 678 773)" fill="rgb(69,69,69)"/>
<ellipse cx="599" cy="809" rx="5.6" ry="14" transform="rotate(26 599 809)" fill="rgb(102,102,102)"/>
<ellipse cx="671" cy="813" rx="5.5" ry="15" transform="rotate(32 671 813)" fill="rgb(69,69,69)"/>
<ellipse cx="759" cy="747" rx="3.2" ry="25" transform="rotate(32 759 747)" fill="rgb(61,61,61)"/>
<ellipse cx="781" cy="642" rx="4.9" ry="13" transform="rotate(30 781 642)" fill="rgb(69,69,69)"/>
<ellipse cx="799" cy="685" rx="6.9" ry="23" transform="rotate(30 799 685)" fill="rgb(69,69,69)"/>
<ellipse cx="669" cy="700" rx="6.6" ry="17" transform="rotate(25 669 700)" fill="rgb(122,122,122)"/>
<ellipse cx="697" cy="752" rx="5.2" ry="13" transform="rotate(27 697 752)" fill="rgb(102,102,102)"/>
<ellipse cx="831" cy="700" rx="5.8" ry="21" transform="rotate(26 831 700)" fill="rgb(61,61,61)"/>
<ellipse cx="733" cy="704" rx="3.8" ry="13" transform="rotate(28 733 704)" fill="rgb(112,112,112)"/>
<ellipse cx="581" cy="799" rx="6.0" ry="20" transform="rotate(27 581 799)" fill="rgb(61,61,61)"/>
<ellipse cx="750" cy="778" rx="4.9" ry="21" transform="rotate(33 750 778)" fill="rgb(61,61,61)"/>
<ellipse cx="623" cy="650" rx="4.7" ry="16" transform="rotate(29 623 650)" fill="rgb(112,112,112)"/>
<ellipse cx="763" cy="729" rx="3.9" ry="19" transform="rotate(25 763 729)" fill="rgb(61,61,61)"/>
<ellipse cx="664" cy="758" rx="3.9" ry="20" transform="rotate(28 664 758)" fill="rgb(122,122,122)"/>
<ellipse cx="747" cy="807" rx="5.8" ry="24" transform="rotate(20 747 807)" fill="rgb(112,112,112)"/>
<ellipse cx="668" cy="760" rx="6.3" ry="29" transform="rotate(35 668 760)" fill="rgb(61,61,61)"/>
<ellipse cx="805" cy="780" rx="3.4" ry="15" transform="rotate(25 805 780)" fill="rgb(122,122,122)"/>
<ellipse cx="824" cy="785" rx="4.8" ry="14" transform="rotate(34 824 785)" fill="rgb(112,112,112)"/>
<ellipse cx="740" cy="773" rx="4.0" ry="29" transform="rotate(21 740 773)" fill="rgb(102,102,102)"/>
<ellipse cx="825" cy="829" rx="6.6" ry="21" transform="rotate(20 825 829)" fill="rgb(102,102,102)"/>
<ellipse cx="761" cy="671" rx="4.6" ry="19" transform="rotate(24 761 671)" fill="rgb(102,102,102)"/>
<ellipse cx="747" cy="770" rx="5.5" ry="14" transform="rotate(35 747 770)" fill="rgb(69,69,69)"/>
<ellipse cx="466" cy="823" rx="8.7" ry="8" fill="rgb(61,61,61)"/>
<ellipse cx="472" cy="808" rx="6.0" ry="7" fill="rgb(112,112,112)"/>
<ellipse cx="498" cy="770" rx="6.7" ry="5" fill="rgb(102,102,102)"/>
<ellipse cx="490" cy="794" rx="4.0" ry="5" fill="rgb(112,112,112)"/>
<ellipse cx="545" cy="773" rx="4.9" ry="6" fill="rgb(69,69,69)"/>
<ellipse cx="496" cy="822" rx="8.2" ry="10" fill="rgb(61,61,61)"/>
<ellipse cx="565" cy="775" rx="6.2" ry="9" fill="rgb(69,69,69)"/>
<ellipse cx="484" cy="802" rx="6.6" ry="7" fill="rgb(112,112,112)"/>
<ellipse cx="535" cy="822" rx="5.7" ry="6" fill="rgb(102,102,102)"/>
<ellipse cx="506" cy="812" rx="4.0" ry="9" fill="rgb(61,61,61)"/>
<ellipse cx="490" cy="776" rx="8.1" ry="6" fill="rgb(102,102,102)"/>
<ellipse cx="469" cy="772" rx="6.5" ry="8" fill="rgb(112,112,112)"/>
<ellipse cx="485" cy="777" rx="8.7" ry="7" fill="rgb(112,112,112)"/>
<ellipse cx="492" cy="783" rx="8.8" ry="7" fill="rgb(102,102,102)"/>
<ellipse cx="592" cy="784" rx="4.2" ry="6" fill="rgb(69,69,69)"/>
<ellipse cx="463" cy="794" rx="6.4" ry="9" fill="rgb(112,112,112)"/>
<ellipse cx="589" cy="829" rx="7.4" ry="5" fill="rgb(61,61,61)"/>
<ellipse cx="615" cy="795" rx="8.7" ry="10" fill="rgb(102,102,102)"/>
<ellipse cx="462" cy="793" rx="7.1" ry="8" fill="rgb(112,112,112)"/>
<ellipse cx="563" cy="780" rx="8.7" ry="7" fill="rgb(112,112,112)"/>
<ellipse cx="493" cy="835" rx="6.8" ry="9" fill="rgb(102,102,102)"/>
<ellipse cx="606" cy="786" rx="7.0" ry="6" fill="rgb(102,102,102)"/>
<ellipse cx="552" cy="835" rx="8.6" ry="10" fill="rgb(61,61,61)"/>
<ellipse cx="617" cy="818" rx="7.7" ry="5" fill="rgb(102,102,102)"/>
<ellipse cx="603" cy="803" rx="4.6" ry="5" fill="rgb(112,112,112)"/>
<ellipse cx="558" cy="800" rx="6.5" ry="5" fill="rgb(69,69,69)"/>
<ellipse cx="500" cy="798" rx="5.9" ry="7" fill="rgb(102,102,102)"/>
<ellipse cx="466" cy="826" rx="5.0" ry="9" fill="rgb(102,102,102)"/>
<ellipse cx="554" cy="822" rx="7.7" ry="8" fill="rgb(69,69,69)"/>
<ellipse cx="520" cy="796" rx="4.0" ry="8" fill="rgb(102,102,102)"/>
<ellipse cx="552" cy="835" rx="5.0" ry="5" fill="rgb(112,112,112)"/>
<ellipse cx="568" cy="772" rx="8.6" ry="5" fill="rgb(102,102,102)"/>
<ellipse cx="534" cy="795" rx="7.1" ry="8" fill="rgb(61,61,61)"/>
<ellipse cx="598" cy="819" rx="5.9" ry="6" fill="rgb(112,112,112)"/>
<ellipse cx="587" cy="830" rx="5.0" ry="9" fill="rgb(61,61,61)"/>
<ellipse cx="579" cy="786" rx="4.6" ry="9" fill="rgb(102,102,102)"/>
<ellipse cx="477" cy="810" rx="7.2" ry="7" fill="rgb(69,69,69)"/>
<ellipse cx="540" cy="816" rx="5.1" ry="8" fill="rgb(102,102,102)"/>
<ellipse cx="607" cy="804" rx="4.0" ry="9" fill="rgb(102,102,102)"/>
<ellipse cx="469" cy="815" rx="6.1" ry="5" fill="rgb(61,61,61)"/>
</g>
<g filter="url(#b6)">
<path d="M722.0,615.0 C724.7,616.7 729.7,625.8 728.0,640.0 C726.3,654.2 716.7,680.0 712.0,700.0 C707.3,720.0 703.7,745.0 700.0,760.0 C696.3,775.0 695.3,786.7 690.0,790.0 C684.7,793.3 670.3,790.0 668.0,780.0 C665.7,770.0 670.7,748.3 676.0,730.0 C681.3,711.7 694.0,686.7 700.0,670.0 C706.0,653.3 708.3,639.2 712.0,630.0 C715.7,620.8 719.3,613.3 722.0,615.0Z" fill="rgb(71,71,71)"/>
<ellipse cx="780" cy="700" rx="10" ry="60" transform="rotate(12 780 700)" fill="rgb(76,76,76)"/>
<ellipse cx="805" cy="640" rx="8" ry="50" transform="rotate(12 805 640)" fill="rgb(82,82,82)"/>
</g>
<g filter="url(#b8)">
<path d="M392.0,400.0 C391.7,392.3 415.3,365.0 430.0,352.0 C444.7,339.0 458.3,329.7 480.0,322.0 C501.7,314.3 533.3,309.0 560.0,306.0 C586.7,303.0 613.3,302.3 640.0,304.0 C666.7,305.7 693.3,311.7 720.0,316.0 C746.7,320.3 779.2,326.7 800.0,330.0 C820.8,333.3 837.5,329.7 845.0,336.0 C852.5,342.3 855.8,363.7 845.0,368.0 C834.2,372.3 804.2,364.7 780.0,362.0 C755.8,359.3 726.7,354.8 700.0,352.0 C673.3,349.2 645.8,345.7 620.0,345.0 C594.2,344.3 568.3,344.7 545.0,348.0 C521.7,351.3 498.8,356.7 480.0,365.0 C461.2,373.3 446.7,392.2 432.0,398.0 C417.3,403.8 392.3,407.7 392.0,400.0Z" fill="rgb(178,178,178)"/>
</g>
<g filter="url(#b6)">
<path d="M628.0,378.0 C639.7,378.0 678.0,384.3 700.0,390.0 C722.0,395.7 741.7,403.7 760.0,412.0 C778.3,420.3 795.8,432.8 810.0,440.0 C824.2,447.2 839.2,448.7 845.0,455.0 C850.8,461.3 852.5,476.2 845.0,478.0 C837.5,479.8 815.8,472.3 800.0,466.0 C784.2,459.7 768.3,449.3 750.0,440.0 C731.7,430.7 710.0,418.3 690.0,410.0 C670.0,401.7 640.3,395.3 630.0,390.0 C619.7,384.7 616.3,378.0 628.0,378.0Z" fill="rgb(84,84,84)"/>
<ellipse cx="800" cy="335" rx="40" ry="28" transform="rotate(15 800 335)" fill="rgb(76,76,76)"/>
<ellipse cx="700" cy="405" rx="40" ry="6" transform="rotate(25 700 405)" fill="rgb(92,92,92)"/>
<ellipse cx="735" cy="425" rx="25" ry="5" transform="rotate(25 735 425)" fill="rgb(76,76,76)"/>
</g>
<g filter="url(#b10)">
<ellipse cx="488" cy="500" rx="126" ry="116" fill="rgb(168,168,168)"/>
</g>
<g filter="url(#b8)">
<ellipse cx="494" cy="505" rx="102" ry="93" fill="rgb(219,219,219)"/>
</g>
<g filter="url(#b16)">
<ellipse cx="522" cy="492" rx="72" ry="76" fill="rgb(247,247,247)"/>
<ellipse cx="430" cy="470" rx="28" ry="40" fill="rgb(237,237,237)"/>
</g>
<g filter="url(#b3)">
<ellipse cx="470" cy="460" rx="16" ry="10" fill="rgb(189,189,189)"/>
<ellipse cx="462" cy="470" rx="6" ry="4" fill="rgb(242,242,242)"/>
</g>
<g filter="url(#b6)">
<ellipse cx="651" cy="640" rx="14" ry="26" transform="rotate(20 651 640)" fill="rgb(224,224,224)"/>
<ellipse cx="693" cy="576" rx="8" ry="11" transform="rotate(0 693 576)" fill="rgb(230,230,230)"/>
<ellipse cx="653" cy="429" rx="12" ry="6" transform="rotate(0 653 429)" fill="rgb(214,214,214)"/>
<ellipse cx="520" cy="755" rx="40" ry="12" transform="rotate(-10 520 755)" fill="rgb(204,204,204)"/>
<ellipse cx="470" cy="745" rx="16" ry="10" transform="rotate(0 470 745)" fill="rgb(199,199,199)"/>
<ellipse cx="580" cy="760" rx="20" ry="10" transform="rotate(0 580 760)" fill="rgb(194,194,194)"/>
<ellipse cx="740" cy="560" rx="25" ry="60" transform="rotate(15 740 560)" fill="rgb(178,178,178)"/>
<ellipse cx="630" cy="520" rx="20" ry="50" transform="rotate(0 630 520)" fill="rgb(189,189,189)"/>
<ellipse cx="800" cy="500" rx="10" ry="50" transform="rotate(10 800 500)" fill="rgb(140,140,140)"/>
</g></g>
<g id="fieldL"><use href="#field"/><g filter="url(#b14)">
<path d="M300.0,420.0 C288.3,428.3 277.5,450.0 270.0,470.0 C262.5,490.0 255.0,518.3 255.0,540.0 C255.0,561.7 260.8,583.3 270.0,600.0 C279.2,616.7 296.7,631.7 310.0,640.0 C323.3,648.3 346.7,658.3 350.0,650.0 C353.3,641.7 335.3,610.0 330.0,590.0 C324.7,570.0 319.3,550.0 318.0,530.0 C316.7,510.0 318.3,488.3 322.0,470.0 C325.7,451.7 343.7,428.3 340.0,420.0 C336.3,411.7 311.7,411.7 300.0,420.0Z" fill="rgb(61,61,61)"/>
<path d="M330.0,360.0 C318.3,365.0 306.7,386.7 300.0,400.0 C293.3,413.3 285.0,436.7 290.0,440.0 C295.0,443.3 316.7,431.7 330.0,420.0 C343.3,408.3 370.0,380.0 370.0,370.0 C370.0,360.0 341.7,355.0 330.0,360.0Z" fill="rgb(56,56,56)"/>
</g>
<g filter="url(#b12)">
<ellipse cx="560" cy="560" rx="65" ry="55" fill="rgb(209,209,209)"/>
<ellipse cx="600" cy="500" rx="30" ry="60" fill="rgb(204,204,204)"/>
</g>
<g filter="url(#b6)">
<ellipse cx="198" cy="544" rx="19" ry="4.6" transform="rotate(-50 198 544)" fill="rgb(46,46,46)"/>
<ellipse cx="281" cy="416" rx="32" ry="3.8" transform="rotate(-49 281 416)" fill="rgb(43,43,43)"/>
<ellipse cx="244" cy="579" rx="37" ry="2.5" transform="rotate(-44 244 579)" fill="rgb(38,38,38)"/>
<ellipse cx="206" cy="786" rx="33" ry="4.3" transform="rotate(-40 206 786)" fill="rgb(51,51,51)"/>
<ellipse cx="129" cy="508" rx="35" ry="4.2" transform="rotate(-39 129 508)" fill="rgb(37,37,37)"/>
<ellipse cx="161" cy="472" rx="23" ry="4.4" transform="rotate(-45 161 472)" fill="rgb(54,54,54)"/>
<ellipse cx="277" cy="404" rx="26" ry="3.5" transform="rotate(-49 277 404)" fill="rgb(44,44,44)"/>
<ellipse cx="282" cy="429" rx="33" ry="2.4" transform="rotate(-36 282 429)" fill="rgb(54,54,54)"/>
<ellipse cx="149" cy="384" rx="18" ry="3.6" transform="rotate(-50 149 384)" fill="rgb(37,37,37)"/>
<ellipse cx="204" cy="785" rx="28" ry="3.2" transform="rotate(-34 204 785)" fill="rgb(38,38,38)"/>
<ellipse cx="220" cy="456" rx="33" ry="4.9" transform="rotate(-49 220 456)" fill="rgb(47,47,47)"/>
<ellipse cx="225" cy="446" rx="23" ry="5.0" transform="rotate(-25 225 446)" fill="rgb(38,38,38)"/>
<ellipse cx="244" cy="798" rx="22" ry="3.8" transform="rotate(-49 244 798)" fill="rgb(43,43,43)"/>
<ellipse cx="238" cy="640" rx="38" ry="2.3" transform="rotate(-41 238 640)" fill="rgb(53,53,53)"/>
<ellipse cx="221" cy="579" rx="27" ry="5.0" transform="rotate(-36 221 579)" fill="rgb(36,36,36)"/>
<ellipse cx="262" cy="525" rx="28" ry="2.6" transform="rotate(-39 262 525)" fill="rgb(42,42,42)"/>
<ellipse cx="127" cy="657" rx="18" ry="4.4" transform="rotate(-49 127 657)" fill="rgb(52,52,52)"/>
<ellipse cx="263" cy="599" rx="36" ry="2.7" transform="rotate(-32 263 599)" fill="rgb(44,44,44)"/>
<ellipse cx="154" cy="804" rx="27" ry="3.1" transform="rotate(-29 154 804)" fill="rgb(43,43,43)"/>
<ellipse cx="237" cy="455" rx="40" ry="2.8" transform="rotate(-49 237 455)" fill="rgb(56,56,56)"/>
<ellipse cx="143" cy="796" rx="45" ry="3.8" transform="rotate(-50 143 796)" fill="rgb(37,37,37)"/>
<ellipse cx="150" cy="551" rx="33" ry="4.9" transform="rotate(-41 150 551)" fill="rgb(39,39,39)"/>
<ellipse cx="217" cy="440" rx="18" ry="3.7" transform="rotate(-33 217 440)" fill="rgb(37,37,37)"/>
<ellipse cx="196" cy="690" rx="38" ry="3.1" transform="rotate(-28 196 690)" fill="rgb(39,39,39)"/>
<ellipse cx="246" cy="720" rx="41" ry="3.5" transform="rotate(-48 246 720)" fill="rgb(37,37,37)"/>
<ellipse cx="210" cy="456" rx="34" ry="2.3" transform="rotate(-30 210 456)" fill="rgb(40,40,40)"/>
<ellipse cx="112" cy="457" rx="29" ry="3.7" transform="rotate(-40 112 457)" fill="rgb(39,39,39)"/>
<ellipse cx="202" cy="796" rx="31" ry="4.8" transform="rotate(-49 202 796)" fill="rgb(56,56,56)"/>
<ellipse cx="279" cy="620" rx="31" ry="3.6" transform="rotate(-27 279 620)" fill="rgb(37,37,37)"/>
<ellipse cx="232" cy="619" rx="24" ry="4.2" transform="rotate(-32 232 619)" fill="rgb(38,38,38)"/>
<ellipse cx="243" cy="580" rx="30" ry="3.9" transform="rotate(-49 243 580)" fill="rgb(48,48,48)"/>
<ellipse cx="181" cy="767" rx="22" ry="4.5" transform="rotate(-32 181 767)" fill="rgb(48,48,48)"/>
<ellipse cx="276" cy="396" rx="33" ry="3.8" transform="rotate(-33 276 396)" fill="rgb(44,44,44)"/>
<ellipse cx="123" cy="463" rx="33" ry="2.5" transform="rotate(-48 123 463)" fill="rgb(43,43,43)"/>
<ellipse cx="199" cy="616" rx="16" ry="4.3" transform="rotate(-42 199 616)" fill="rgb(52,52,52)"/>
<ellipse cx="112" cy="800" rx="33" ry="4.9" transform="rotate(-25 112 800)" fill="rgb(53,53,53)"/>
<ellipse cx="130" cy="533" rx="22" ry="4.3" transform="rotate(-45 130 533)" fill="rgb(40,40,40)"/>
<ellipse cx="131" cy="433" rx="43" ry="4.9" transform="rotate(-41 131 433)" fill="rgb(51,51,51)"/>
<ellipse cx="199" cy="610" rx="26" ry="3.9" transform="rotate(-44 199 610)" fill="rgb(41,41,41)"/>
<ellipse cx="208" cy="467" rx="28" ry="4.8" transform="rotate(-49 208 467)" fill="rgb(38,38,38)"/>
<ellipse cx="262" cy="405" rx="23" ry="4.6" transform="rotate(-35 262 405)" fill="rgb(40,40,40)"/>
<ellipse cx="121" cy="501" rx="24" ry="4.4" transform="rotate(-26 121 501)" fill="rgb(52,52,52)"/>
<ellipse cx="281" cy="789" rx="41" ry="4.8" transform="rotate(-26 281 789)" fill="rgb(38,38,38)"/>
<ellipse cx="170" cy="489" rx="33" ry="3.5" transform="rotate(-41 170 489)" fill="rgb(53,53,53)"/>
<ellipse cx="186" cy="472" rx="23" ry="3.4" transform="rotate(-35 186 472)" fill="rgb(47,47,47)"/>
<ellipse cx="194" cy="462" rx="27" ry="3.0" transform="rotate(-46 194 462)" fill="rgb(47,47,47)"/>
<ellipse cx="146" cy="693" rx="35" ry="2.4" transform="rotate(-34 146 693)" fill="rgb(43,43,43)"/>
<ellipse cx="195" cy="647" rx="38" ry="4.7" transform="rotate(-32 195 647)" fill="rgb(40,40,40)"/>
<ellipse cx="213" cy="528" rx="16" ry="3.7" transform="rotate(-38 213 528)" fill="rgb(53,53,53)"/>
<ellipse cx="172" cy="747" rx="30" ry="2.3" transform="rotate(-32 172 747)" fill="rgb(42,42,42)"/>
<ellipse cx="211" cy="411" rx="15" ry="4.8" transform="rotate(-49 211 411)" fill="rgb(39,39,39)"/>
<ellipse cx="141" cy="422" rx="40" ry="5.0" transform="rotate(-34 141 422)" fill="rgb(44,44,44)"/>
<ellipse cx="279" cy="603" rx="19" ry="4.1" transform="rotate(-41 279 603)" fill="rgb(41,41,41)"/>
<ellipse cx="171" cy="549" rx="20" ry="3.8" transform="rotate(-28 171 549)" fill="rgb(47,47,47)"/>
<ellipse cx="112" cy="681" rx="16" ry="3.4" transform="rotate(-28 112 681)" fill="rgb(50,50,50)"/>
<ellipse cx="283" cy="712" rx="23" ry="2.4" transform="rotate(-39 283 712)" fill="rgb(50,50,50)"/>
<ellipse cx="154" cy="526" rx="37" ry="3.0" transform="rotate(-35 154 526)" fill="rgb(47,47,47)"/>
<ellipse cx="286" cy="392" rx="21" ry="4.3" transform="rotate(-33 286 392)" fill="rgb(38,38,38)"/>
<ellipse cx="136" cy="473" rx="31" ry="4.7" transform="rotate(-45 136 473)" fill="rgb(40,40,40)"/>
<ellipse cx="240" cy="566" rx="40" ry="5.0" transform="rotate(-27 240 566)" fill="rgb(50,50,50)"/>
<ellipse cx="284" cy="123" rx="52" ry="3.2" transform="rotate(-16 284 123)" fill="rgb(42,42,42)"/>
<ellipse cx="410" cy="232" rx="57" ry="4.9" transform="rotate(-23 410 232)" fill="rgb(37,37,37)"/>
<ellipse cx="390" cy="279" rx="59" ry="2.6" transform="rotate(-14 390 279)" fill="rgb(47,47,47)"/>
<ellipse cx="296" cy="257" rx="59" ry="2.5" transform="rotate(-24 296 257)" fill="rgb(46,46,46)"/>
<ellipse cx="307" cy="154" rx="53" ry="2.9" transform="rotate(-22 307 154)" fill="rgb(36,36,36)"/>
<ellipse cx="160" cy="199" rx="51" ry="3.4" transform="rotate(-6 160 199)" fill="rgb(31,31,31)"/>
<ellipse cx="197" cy="142" rx="43" ry="2.6" transform="rotate(-12 197 142)" fill="rgb(40,40,40)"/>
<ellipse cx="307" cy="296" rx="52" ry="4.8" transform="rotate(-22 307 296)" fill="rgb(37,37,37)"/>
<ellipse cx="409" cy="197" rx="31" ry="3.4" transform="rotate(-21 409 197)" fill="rgb(46,46,46)"/>
<ellipse cx="322" cy="131" rx="59" ry="3.6" transform="rotate(-20 322 131)" fill="rgb(42,42,42)"/>
<ellipse cx="406" cy="186" rx="21" ry="2.6" transform="rotate(-24 406 186)" fill="rgb(40,40,40)"/>
<ellipse cx="234" cy="297" rx="28" ry="2.0" transform="rotate(-16 234 297)" fill="rgb(33,33,33)"/>
<ellipse cx="234" cy="160" rx="27" ry="3.9" transform="rotate(-6 234 160)" fill="rgb(37,37,37)"/>
<ellipse cx="322" cy="181" rx="57" ry="3.7" transform="rotate(-24 322 181)" fill="rgb(44,44,44)"/>
<ellipse cx="207" cy="120" rx="21" ry="4.5" transform="rotate(-11 207 120)" fill="rgb(37,37,37)"/>
<ellipse cx="301" cy="265" rx="23" ry="4.1" transform="rotate(-11 301 265)" fill="rgb(47,47,47)"/>
<ellipse cx="166" cy="236" rx="40" ry="4.5" transform="rotate(-18 166 236)" fill="rgb(42,42,42)"/>
<ellipse cx="392" cy="187" rx="41" ry="4.7" transform="rotate(-24 392 187)" fill="rgb(48,48,48)"/>
<ellipse cx="235" cy="211" rx="32" ry="4.4" transform="rotate(-14 235 211)" fill="rgb(44,44,44)"/>
<ellipse cx="178" cy="304" rx="53" ry="4.0" transform="rotate(-21 178 304)" fill="rgb(35,35,35)"/>
<ellipse cx="272" cy="124" rx="58" ry="3.2" transform="rotate(-6 272 124)" fill="rgb(34,34,34)"/>
<ellipse cx="325" cy="286" rx="46" ry="3.3" transform="rotate(-25 325 286)" fill="rgb(38,38,38)"/>
<ellipse cx="255" cy="318" rx="59" ry="4.9" transform="rotate(-5 255 318)" fill="rgb(34,34,34)"/>
<ellipse cx="158" cy="174" rx="20" ry="2.4" transform="rotate(-13 158 174)" fill="rgb(34,34,34)"/>
<ellipse cx="315" cy="194" rx="31" ry="4.9" transform="rotate(-21 315 194)" fill="rgb(46,46,46)"/>
<ellipse cx="292" cy="256" rx="26" ry="4.2" transform="rotate(-7 292 256)" fill="rgb(34,34,34)"/>
<ellipse cx="278" cy="254" rx="39" ry="4.3" transform="rotate(-12 278 254)" fill="rgb(36,36,36)"/>
<ellipse cx="334" cy="280" rx="39" ry="3.8" transform="rotate(-12 334 280)" fill="rgb(39,39,39)"/>
<ellipse cx="174" cy="200" rx="51" ry="4.2" transform="rotate(-24 174 200)" fill="rgb(39,39,39)"/>
<ellipse cx="309" cy="227" rx="26" ry="3.9" transform="rotate(-11 309 227)" fill="rgb(40,40,40)"/>
</g></g>
<clipPath id="clipImg"><path d="M105.7,102.9 L831.3,102.9 L831.3,762 L830.6,762 L823.3,825.6 L105.7,825.6 Z"/></clipPath>
<clipPath id="clipAx"><rect x="105.7" y="102.9" width="725.5" height="725.2"/></clipPath>
</defs>
<rect x="104.4" y="101.6" width="728.1" height="727.8" fill="#000"/>
<g clip-path="url(#clipImg)"><use href="#fieldL" filter="url(#fL)"/></g>
<g clip-path="url(#clipAx)"><rect x="431.4" y="428.4" width="72.2" height="73.3" fill="#ff0000" fill-opacity="0.4"/></g>
<g clip-path="url(#clipImg)"><use href="#fieldL" filter="url(#fLc)"/></g>
<g clip-path="url(#clipAx)"><g stroke="#fff" stroke-width="2.1" stroke-dasharray="2.1 3.4" fill="none">
<line x1="160.9" y1="102.9" x2="160.9" y2="826"/>
<line x1="306.3" y1="102.9" x2="306.3" y2="826"/>
<line x1="451.7" y1="102.9" x2="451.7" y2="826"/>
<line x1="597.1" y1="102.9" x2="597.1" y2="826"/>
<line x1="742.5" y1="102.9" x2="742.5" y2="826"/>
<line x1="105.7" y1="196.8" x2="827" y2="196.8"/>
<line x1="105.7" y1="342.2" x2="827" y2="342.2"/>
<line x1="105.7" y1="487.6" x2="827" y2="487.6"/>
<line x1="105.7" y1="633.0" x2="827" y2="633.0"/>
<line x1="105.7" y1="778.4" x2="827" y2="778.4"/>
</g></g>
<rect x="101.6" y="803.4" width="314.0" height="27.4" rx="3" fill="#000"/>
<text x="106.8" y="821.8" font-size="17.43" font-weight="bold" fill="#fff">Copyright © 2020-2025 Dapiya</text>
<text x="0" y="0" font-size="14" fill="#22a884" text-anchor="middle" transform="translate(536,358) rotate(-4)" dy="5">−54</text>
<text x="0" y="0" font-size="14" fill="#22a884" text-anchor="middle" transform="translate(590,366) rotate(14)" dy="5">−54</text>
<text x="0" y="0" font-size="14" fill="#2a788e" text-anchor="middle" transform="translate(531,406) rotate(2)" dy="5">−64</text>
<text x="0" y="0" font-size="14" fill="#7ad151" text-anchor="middle" transform="translate(681,370) rotate(-25)" dy="5">−42</text>
<text x="0" y="0" font-size="14" fill="#22a884" text-anchor="middle" transform="translate(652,732) rotate(52)" dy="5">−54</text>
<text x="0" y="0" font-size="14" fill="#22a884" text-anchor="middle" transform="translate(443,700) rotate(-38)" dy="5">−54</text>
<text x="0" y="0" font-size="14" fill="#22a884" text-anchor="middle" transform="translate(526,758) rotate(-42)" dy="5">−54</text>
<text x="0" y="0" font-size="14" fill="#fde725" text-anchor="middle" transform="translate(797,740) rotate(82)" dy="5">−31</text>
<text x="0" y="0" font-size="14" fill="#fde725" text-anchor="middle" transform="translate(279,770) rotate(-55)" dy="5">31</text>
<text x="0" y="0" font-size="14" fill="#fde725" text-anchor="middle" transform="translate(443,768) rotate(-55)" dy="5">31</text>
<text x="0" y="0" font-size="14" fill="#fde725" text-anchor="middle" transform="translate(382,807) rotate(-50)" dy="5">31</text>
<text x="0" y="0" font-size="14" fill="#2a788e" text-anchor="middle" transform="translate(458,485) rotate(-10)" dy="5">−64</text>
<text x="0" y="0" font-size="14" fill="#22a884" text-anchor="middle" transform="translate(136,681) rotate(-10)" dy="5">−54</text>
<g clip-path="url(#clipAx)">
<polyline points="421.8,100 380.2,187.6 382.4,205 397.7,275 402.3,303.6 410.3,341 415.6,371.2 437,408.6 458.3,446 475,480 494.7,512.9" fill="none" stroke="#0000ff" stroke-width="2.6" stroke-dasharray="2.6 4.3"/>
<path d="M514.5,549.5L521.5,556.5M514.5,556.5L521.5,549.5" stroke="#00bfbf" stroke-width="3"/>
<path d="M534.2,574.5L541.2,581.5M534.2,581.5L541.2,574.5" stroke="#00bfbf" stroke-width="3"/>
<path d="M540.5,586.2L547.5,593.2M540.5,593.2L547.5,586.2" stroke="#00bfbf" stroke-width="3"/>
<path d="M558.9,598.0L565.9,605.0M558.9,605.0L565.9,598.0" stroke="#00bfbf" stroke-width="3"/>
<path d="M565.5,608.4L572.5,615.4M565.5,615.4L572.5,608.4" stroke="#00bfbf" stroke-width="3"/>
<path d="M586.2,618.8L593.2,625.8M586.2,625.8L593.2,618.8" stroke="#00bfbf" stroke-width="3"/>
<path d="M592.8,625.3L599.8,632.3M592.8,632.3L599.8,625.3" stroke="#00bfbf" stroke-width="3"/>
<path d="M599.3,631.8L606.3,638.8M599.3,638.8L606.3,631.8" stroke="#00bfbf" stroke-width="3"/>
<path d="M636.5,656.5L643.5,663.5M636.5,663.5L643.5,656.5" stroke="#00bfbf" stroke-width="3"/>
<path d="M696.5,708.5L703.5,715.5M696.5,715.5L703.5,708.5" stroke="#00bfbf" stroke-width="3"/>
<path d="M755.5,766.5L762.5,773.5M755.5,773.5L762.5,766.5" stroke="#00bfbf" stroke-width="3"/>
<path d="M779.5,775.0L786.5,782.0M779.5,782.0L786.5,775.0" stroke="#00bfbf" stroke-width="3"/>
<path d="M800.1,785.3L807.1,792.3M800.1,792.3L807.1,785.3" stroke="#00bfbf" stroke-width="3"/>
<path d="M824.1,804.1L831.1,811.1M824.1,811.1L831.1,804.1" stroke="#00bfbf" stroke-width="3"/>
<polyline points="472.5,493.4 469.3,497.9 477.8,509.0 484.9,507.0 497.3,519.4 499.9,524.6 516.8,544.2 520.7,537.0 511.6,554.6 518.1,549.4 539.0,570.2 545.5,587.1 548.1,583.2 576.7,617.1 596.3,635.3 632.7,660.0 670.0,690.0 720.0,735.0 760.0,768.0 790.0,782.0 833.0,806.0" fill="none" stroke="#008000" stroke-width="2.8" stroke-linejoin="round"/>
<polyline points="503.4,525.3 555.2,582.6 612.5,647.7 685.2,699.5 757.3,766.5 833.0,808.0" fill="none" stroke="#0000ff" stroke-width="2.8"/>
<circle cx="503.4" cy="525.3" r="4.4" fill="#0000ff"/>
<circle cx="555.2" cy="582.6" r="4.4" fill="#0000ff"/>
<circle cx="612.5" cy="647.7" r="4.4" fill="#0000ff"/>
<circle cx="685.2" cy="699.5" r="4.4" fill="#0000ff"/>
<circle cx="757.3" cy="766.5" r="4.4" fill="#0000ff"/>
<rect x="484.9" y="504.4" width="9.2" height="9.2" fill="#bf00bf"/>
<rect x="555.1999999999999" y="587.6999999999999" width="9.2" height="9.2" fill="#bf00bf"/>
<rect x="586.4" y="630.6999999999999" width="9.2" height="9.2" fill="#bf00bf"/>
<rect x="680.6" y="707.0" width="9.2" height="9.2" fill="#bf00bf"/>
<rect x="716.6999999999999" y="737.8" width="9.2" height="9.2" fill="#bf00bf"/>
<polyline points="467.3,464.7 473.2,475.2 469.3,484.9 496.0,516.8 500.5,505.1 526.6,538.3 518.1,542.9 545.5,574.1 548.1,580.6 578.7,615.1 572.2,620.3 608.0,641.2 611.9,637.9 644.0,663.5 669.8,685.8 672.4,697.8 716.1,727.9 717.0,744.1 748.7,759.6 750.4,752.7 759.0,761.3 771.0,773.3 784.7,775.0 788.2,783.6 833.0,797.3" fill="none" stroke="#ff0000" stroke-width="3.6" stroke-linejoin="miter"/>
<path d="M479.6,429.2L489.2,438.8M479.6,438.8L489.2,429.2" stroke="#ff0000" stroke-width="3.2"/>
</g>
<rect x="430.6" y="107.8" width="395.6" height="189.7" rx="3.5" fill="#fff" fill-opacity="0.8" stroke="#cccccc" stroke-opacity="0.8" stroke-width="1.5"/>
<text x="479.3" y="129.1" font-size="15.75">AMSU Locations [NOAAMC/0146Z 142 925]</text>
<text x="479.3" y="151.7" font-size="15.75">ARCHER Locations [1321Z]</text>
<text x="479.3" y="174.3" font-size="15.75">SATCON Locations [0840Z 128 933]</text>
<text x="479.3" y="196.9" font-size="15.75">ADT Tracks [1610Z 112.4 945.1]</text>
<text x="479.3" y="219.5" font-size="15.75">JTWC/NHC Forecast [29/1200Z]</text>
<text x="479.3" y="242.1" font-size="15.75">JTWC/NHC Tracks [29/1200Z]</text>
<text x="479.3" y="264.7" font-size="15.75">MESOSCALE/TARGET Location</text>
<text x="479.3" y="287.3" font-size="15.75">Floater Locater</text>
<rect x="447.4" y="118.0" width="9.2" height="9.2" fill="#bf00bf"/>
<rect x="447.4" y="140.70000000000002" width="9.2" height="9.2" fill="#bf00bf"/>
<path d="M448,163.9L456,171.9M448,171.9L456,163.9" stroke="#00bfbf" stroke-width="2.6"/>
<line x1="435" y1="190.5" x2="468" y2="190.5" stroke="#008000" stroke-width="2.6"/>
<line x1="435.6" y1="213.3" x2="468" y2="213.3" stroke="#0000ff" stroke-width="2.2" stroke-dasharray="2.2 3.6"/>
<line x1="435" y1="236.0" x2="468" y2="236.0" stroke="#0000ff" stroke-width="2.6"/><circle cx="452" cy="236.0" r="4.4" fill="#0000ff"/>
<path d="M447.4,254.29999999999998L456.6,263.5M447.4,263.5L456.6,254.29999999999998" stroke="#ff0000" stroke-width="3"/>
<line x1="435" y1="282.0" x2="468" y2="282.0" stroke="#ff0000" stroke-width="2.8"/>
<rect x="104.4" y="101.6" width="728.1" height="727.8" fill="none" stroke="#000" stroke-width="2.6"/>
<g transform="translate(875,0)">
<rect x="104.4" y="101.6" width="728.1" height="727.8" fill="#fff"/>
<g clip-path="url(#clipImg)"><g filter="url(#fR)"><use href="#field"/><g filter="url(#b8)">
<path d="M420.0,372.0 C421.7,365.3 436.7,349.0 450.0,340.0 C463.3,331.0 481.7,323.7 500.0,318.0 C518.3,312.3 536.7,308.3 560.0,306.0 C583.3,303.7 613.3,302.7 640.0,304.0 C666.7,305.3 693.3,310.0 720.0,314.0 C746.7,318.0 779.2,324.7 800.0,328.0 C820.8,331.3 837.5,328.7 845.0,334.0 C852.5,339.3 855.8,356.3 845.0,360.0 C834.2,363.7 804.2,358.5 780.0,356.0 C755.8,353.5 726.7,348.0 700.0,345.0 C673.3,342.0 645.8,338.8 620.0,338.0 C594.2,337.2 568.3,337.7 545.0,340.0 C521.7,342.3 497.5,345.3 480.0,352.0 C462.5,358.7 450.0,376.7 440.0,380.0 C430.0,383.3 418.3,378.7 420.0,372.0Z" fill="rgb(204,204,204)"/>
</g>
<g filter="url(#b14)">
<path d="M440.0,790.0 C455.0,780.5 493.3,780.5 520.0,778.0 C546.7,775.5 570.0,780.5 600.0,775.0 C630.0,769.5 673.3,765.8 700.0,745.0 C726.7,724.2 735.8,672.5 760.0,650.0 C784.2,627.5 830.8,579.2 845.0,610.0 C859.2,640.8 914.2,797.5 845.0,835.0 C775.8,872.5 497.5,842.5 430.0,835.0 C362.5,827.5 425.0,799.5 440.0,790.0Z" fill="rgb(133,133,133)"/>
</g>
<g filter="url(#b5)">
<ellipse cx="700" cy="720" rx="10" ry="70" transform="rotate(10 700 720)" fill="rgb(92,92,92)"/>
<ellipse cx="760" cy="740" rx="8" ry="80" transform="rotate(12 760 740)" fill="rgb(102,102,102)"/>
<ellipse cx="810" cy="700" rx="8" ry="70" transform="rotate(15 810 700)" fill="rgb(107,107,107)"/>
<ellipse cx="600" cy="800" rx="40" ry="8" transform="rotate(-10 600 800)" fill="rgb(102,102,102)"/>
<ellipse cx="735" cy="790" rx="10" ry="40" transform="rotate(10 735 790)" fill="rgb(158,158,158)"/>
<ellipse cx="790" cy="790" rx="10" ry="40" transform="rotate(10 790 790)" fill="rgb(153,153,153)"/>
</g>
<g filter="url(#b6)">
<path d="M628.0,378.0 C639.7,378.0 678.0,384.3 700.0,390.0 C722.0,395.7 741.7,403.7 760.0,412.0 C778.3,420.3 795.8,432.8 810.0,440.0 C824.2,447.2 839.2,448.7 845.0,455.0 C850.8,461.3 852.5,476.2 845.0,478.0 C837.5,479.8 815.8,472.3 800.0,466.0 C784.2,459.7 768.3,449.3 750.0,440.0 C731.7,430.7 710.0,418.3 690.0,410.0 C670.0,401.7 640.3,395.3 630.0,390.0 C619.7,384.7 616.3,378.0 628.0,378.0Z" fill="rgb(133,133,133)"/>
<ellipse cx="800" cy="340" rx="40" ry="22" transform="rotate(12 800 340)" fill="rgb(178,178,178)"/>
<ellipse cx="700" cy="405" rx="40" ry="6" transform="rotate(25 700 405)" fill="rgb(128,128,128)"/>
<ellipse cx="735" cy="425" rx="25" ry="5" transform="rotate(25 735 425)" fill="rgb(128,128,128)"/>
</g>
<g filter="url(#b8)">
<path d="M330.0,570.0 C328.3,573.3 340.8,589.2 350.0,600.0 C359.2,610.8 373.3,624.7 385.0,635.0 C396.7,645.3 408.8,656.5 420.0,662.0 C431.2,667.5 448.7,671.7 452.0,668.0 C455.3,664.3 448.7,649.7 440.0,640.0 C431.3,630.3 413.3,620.0 400.0,610.0 C386.7,600.0 371.7,586.7 360.0,580.0 C348.3,573.3 331.7,566.7 330.0,570.0Z" fill="rgb(122,122,122)"/>
<path d="M300.0,712.0 C306.7,708.3 340.0,703.7 360.0,700.0 C380.0,696.3 404.2,693.3 420.0,690.0 C435.8,686.7 451.7,677.5 455.0,680.0 C458.3,682.5 452.5,699.2 440.0,705.0 C427.5,710.8 400.0,712.2 380.0,715.0 C360.0,717.8 333.3,722.5 320.0,722.0 C306.7,721.5 293.3,715.7 300.0,712.0Z" fill="rgb(128,128,128)"/>
</g>
<g filter="url(#b10)">
<ellipse cx="425" cy="668" rx="30" ry="18" transform="rotate(-30 425 668)" fill="rgb(69,69,69)"/>
<ellipse cx="400" cy="690" rx="25" ry="10" transform="rotate(-10 400 690)" fill="rgb(76,76,76)"/>
</g>
<g filter="url(#b3)">
<ellipse cx="753" cy="255" rx="12" ry="2.5" transform="rotate(-55 753 255)" fill="rgb(82,82,82)"/>
<ellipse cx="831" cy="243" rx="12" ry="2.5" transform="rotate(-55 831 243)" fill="rgb(88,88,88)"/>
<ellipse cx="607" cy="254" rx="12" ry="2.5" transform="rotate(-55 607 254)" fill="rgb(89,89,89)"/>
<ellipse cx="759" cy="268" rx="12" ry="2.5" transform="rotate(-55 759 268)" fill="rgb(51,51,51)"/>
<ellipse cx="715" cy="219" rx="12" ry="2.5" transform="rotate(-55 715 219)" fill="rgb(71,71,71)"/>
<ellipse cx="741" cy="195" rx="12" ry="2.5" transform="rotate(-55 741 195)" fill="rgb(56,56,56)"/>
<ellipse cx="668" cy="283" rx="12" ry="2.5" transform="rotate(-55 668 283)" fill="rgb(81,81,81)"/>
<ellipse cx="639" cy="277" rx="12" ry="2.5" transform="rotate(-55 639 277)" fill="rgb(52,52,52)"/>
<ellipse cx="751" cy="203" rx="12" ry="2.5" transform="rotate(-55 751 203)" fill="rgb(46,46,46)"/>
<ellipse cx="813" cy="201" rx="12" ry="2.5" transform="rotate(-55 813 201)" fill="rgb(56,56,56)"/>
<ellipse cx="841" cy="253" rx="12" ry="2.5" transform="rotate(-55 841 253)" fill="rgb(59,59,59)"/>
<ellipse cx="836" cy="225" rx="12" ry="2.5" transform="rotate(-55 836 225)" fill="rgb(77,77,77)"/>
<ellipse cx="650" cy="287" rx="12" ry="2.5" transform="rotate(-55 650 287)" fill="rgb(78,78,78)"/>
<ellipse cx="837" cy="255" rx="12" ry="2.5" transform="rotate(-55 837 255)" fill="rgb(60,60,60)"/>
<ellipse cx="688" cy="216" rx="12" ry="2.5" transform="rotate(-55 688 216)" fill="rgb(53,53,53)"/>
<ellipse cx="616" cy="238" rx="12" ry="2.5" transform="rotate(-55 616 238)" fill="rgb(74,74,74)"/>
<ellipse cx="601" cy="273" rx="12" ry="2.5" transform="rotate(-55 601 273)" fill="rgb(61,61,61)"/>
<ellipse cx="676" cy="273" rx="12" ry="2.5" transform="rotate(-55 676 273)" fill="rgb(68,68,68)"/>
<ellipse cx="677" cy="244" rx="12" ry="2.5" transform="rotate(-55 677 244)" fill="rgb(78,78,78)"/>
<ellipse cx="614" cy="296" rx="12" ry="2.5" transform="rotate(-55 614 296)" fill="rgb(47,47,47)"/>
<ellipse cx="784" cy="259" rx="12" ry="2.5" transform="rotate(-55 784 259)" fill="rgb(47,47,47)"/>
<ellipse cx="793" cy="217" rx="12" ry="2.5" transform="rotate(-55 793 217)" fill="rgb(72,72,72)"/>
<ellipse cx="602" cy="219" rx="12" ry="2.5" transform="rotate(-55 602 219)" fill="rgb(54,54,54)"/>
<ellipse cx="834" cy="197" rx="12" ry="2.5" transform="rotate(-55 834 197)" fill="rgb(81,81,81)"/>
<ellipse cx="828" cy="261" rx="12" ry="2.5" transform="rotate(-55 828 261)" fill="rgb(62,62,62)"/>
<ellipse cx="687" cy="247" rx="12" ry="2.5" transform="rotate(-55 687 247)" fill="rgb(82,82,82)"/>
<ellipse cx="626" cy="275" rx="12" ry="2.5" transform="rotate(-55 626 275)" fill="rgb(82,82,82)"/>
<ellipse cx="811" cy="187" rx="12" ry="2.5" transform="rotate(-55 811 187)" fill="rgb(89,89,89)"/>
<ellipse cx="622" cy="241" rx="12" ry="2.5" transform="rotate(-55 622 241)" fill="rgb(74,74,74)"/>
<ellipse cx="825" cy="210" rx="12" ry="2.5" transform="rotate(-55 825 210)" fill="rgb(88,88,88)"/>
<ellipse cx="734" cy="222" rx="12" ry="2.5" transform="rotate(-55 734 222)" fill="rgb(60,60,60)"/>
<ellipse cx="643" cy="215" rx="12" ry="2.5" transform="rotate(-55 643 215)" fill="rgb(53,53,53)"/>
<ellipse cx="769" cy="274" rx="12" ry="2.5" transform="rotate(-55 769 274)" fill="rgb(53,53,53)"/>
<ellipse cx="612" cy="297" rx="12" ry="2.5" transform="rotate(-55 612 297)" fill="rgb(70,70,70)"/>
<ellipse cx="699" cy="220" rx="12" ry="2.5" transform="rotate(-55 699 220)" fill="rgb(73,73,73)"/>
<ellipse cx="802" cy="223" rx="12" ry="2.5" transform="rotate(-55 802 223)" fill="rgb(65,65,65)"/>
<ellipse cx="614" cy="291" rx="12" ry="2.5" transform="rotate(-55 614 291)" fill="rgb(47,47,47)"/>
<ellipse cx="721" cy="268" rx="12" ry="2.5" transform="rotate(-55 721 268)" fill="rgb(52,52,52)"/>
<ellipse cx="779" cy="269" rx="12" ry="2.5" transform="rotate(-55 779 269)" fill="rgb(75,75,75)"/>
<ellipse cx="793" cy="195" rx="12" ry="2.5" transform="rotate(-55 793 195)" fill="rgb(66,66,66)"/>
<ellipse cx="637" cy="281" rx="12" ry="2.5" transform="rotate(-55 637 281)" fill="rgb(59,59,59)"/>
<ellipse cx="711" cy="283" rx="12" ry="2.5" transform="rotate(-55 711 283)" fill="rgb(85,85,85)"/>
<ellipse cx="839" cy="218" rx="12" ry="2.5" transform="rotate(-55 839 218)" fill="rgb(68,68,68)"/>
<ellipse cx="779" cy="229" rx="12" ry="2.5" transform="rotate(-55 779 229)" fill="rgb(59,59,59)"/>
<ellipse cx="699" cy="213" rx="12" ry="2.5" transform="rotate(-55 699 213)" fill="rgb(63,63,63)"/>
<ellipse cx="842" cy="260" rx="12" ry="2.5" transform="rotate(-55 842 260)" fill="rgb(75,75,75)"/>
<ellipse cx="722" cy="225" rx="12" ry="2.5" transform="rotate(-55 722 225)" fill="rgb(50,50,50)"/>
<ellipse cx="667" cy="271" rx="12" ry="2.5" transform="rotate(-55 667 271)" fill="rgb(86,86,86)"/>
<ellipse cx="689" cy="269" rx="12" ry="2.5" transform="rotate(-55 689 269)" fill="rgb(81,81,81)"/>
<ellipse cx="770" cy="246" rx="12" ry="2.5" transform="rotate(-55 770 246)" fill="rgb(81,81,81)"/>
<ellipse cx="689" cy="262" rx="12" ry="2.5" transform="rotate(-55 689 262)" fill="rgb(59,59,59)"/>
<ellipse cx="719" cy="263" rx="12" ry="2.5" transform="rotate(-55 719 263)" fill="rgb(78,78,78)"/>
<ellipse cx="672" cy="285" rx="12" ry="2.5" transform="rotate(-55 672 285)" fill="rgb(76,76,76)"/>
<ellipse cx="742" cy="195" rx="12" ry="2.5" transform="rotate(-55 742 195)" fill="rgb(71,71,71)"/>
<ellipse cx="661" cy="263" rx="12" ry="2.5" transform="rotate(-55 661 263)" fill="rgb(67,67,67)"/>
<ellipse cx="800" cy="240" rx="12" ry="2.5" transform="rotate(-55 800 240)" fill="rgb(83,83,83)"/>
<ellipse cx="685" cy="257" rx="12" ry="2.5" transform="rotate(-55 685 257)" fill="rgb(80,80,80)"/>
<ellipse cx="803" cy="214" rx="12" ry="2.5" transform="rotate(-55 803 214)" fill="rgb(85,85,85)"/>
<ellipse cx="813" cy="242" rx="12" ry="2.5" transform="rotate(-55 813 242)" fill="rgb(91,91,91)"/>
<ellipse cx="834" cy="224" rx="12" ry="2.5" transform="rotate(-55 834 224)" fill="rgb(70,70,70)"/>
<ellipse cx="641" cy="280" rx="12" ry="2.5" transform="rotate(-55 641 280)" fill="rgb(89,89,89)"/>
<ellipse cx="717" cy="256" rx="12" ry="2.5" transform="rotate(-55 717 256)" fill="rgb(79,79,79)"/>
<ellipse cx="779" cy="203" rx="12" ry="2.5" transform="rotate(-55 779 203)" fill="rgb(82,82,82)"/>
<ellipse cx="742" cy="250" rx="12" ry="2.5" transform="rotate(-55 742 250)" fill="rgb(65,65,65)"/>
<ellipse cx="753" cy="258" rx="12" ry="2.5" transform="rotate(-55 753 258)" fill="rgb(75,75,75)"/>
<ellipse cx="777" cy="191" rx="12" ry="2.5" transform="rotate(-55 777 191)" fill="rgb(53,53,53)"/>
<ellipse cx="708" cy="254" rx="12" ry="2.5" transform="rotate(-55 708 254)" fill="rgb(56,56,56)"/>
<ellipse cx="768" cy="243" rx="12" ry="2.5" transform="rotate(-55 768 243)" fill="rgb(48,48,48)"/>
<ellipse cx="716" cy="217" rx="12" ry="2.5" transform="rotate(-55 716 217)" fill="rgb(48,48,48)"/>
<ellipse cx="633" cy="237" rx="12" ry="2.5" transform="rotate(-55 633 237)" fill="rgb(54,54,54)"/>
</g>
<g filter="url(#b12)">
<ellipse cx="494" cy="496" rx="128" ry="118" fill="rgb(184,184,184)"/>
</g>
<g filter="url(#b10)">
<path d="M360.0,470.0 C360.0,450.0 364.5,437.5 372.0,425.0 C379.5,412.5 400.7,390.8 405.0,395.0 C409.3,399.2 399.5,429.2 398.0,450.0 C396.5,470.8 392.3,500.0 396.0,520.0 C399.7,540.0 407.7,556.7 420.0,570.0 C432.3,583.3 451.7,594.2 470.0,600.0 C488.3,605.8 511.7,606.7 530.0,605.0 C548.3,603.3 577.5,587.2 580.0,590.0 C582.5,592.8 563.3,615.7 545.0,622.0 C526.7,628.3 493.3,632.5 470.0,628.0 C446.7,623.5 421.3,608.8 405.0,595.0 C388.7,581.2 379.5,565.8 372.0,545.0 C364.5,524.2 360.0,490.0 360.0,470.0Z" fill="rgb(199,199,199)"/>
</g>
<g filter="url(#b8)">
<ellipse cx="494" cy="505" rx="102" ry="93" fill="rgb(224,224,224)"/>
</g>
<g filter="url(#b3)">
<path d="M455,470 q10,-22 35,-12 q12,8 2,20 q-14,10 -24,-2" fill="none" stroke="rgb(189,189,189)" stroke-width="6"/>
<path d="M436,452 q30,-38 76,-12" fill="none" stroke="rgb(204,204,204)" stroke-width="5"/>
<ellipse cx="470" cy="462" rx="10" ry="7" fill="rgb(184,184,184)"/>
</g></g></g>
<path d="M678,177 q8,-2 14,-7" stroke="#fff" stroke-width="4" stroke-linecap="round" fill="none"/>
<g stroke="#fff" stroke-width="2.1" stroke-dasharray="2.1 3.4" fill="none">
<line x1="160.9" y1="102.9" x2="160.9" y2="826"/>
<line x1="306.3" y1="102.9" x2="306.3" y2="826"/>
<line x1="451.7" y1="102.9" x2="451.7" y2="826"/>
<line x1="597.1" y1="102.9" x2="597.1" y2="826"/>
<line x1="742.5" y1="102.9" x2="742.5" y2="826"/>
<line x1="105.7" y1="196.8" x2="827" y2="196.8"/>
<line x1="105.7" y1="342.2" x2="827" y2="342.2"/>
<line x1="105.7" y1="487.6" x2="827" y2="487.6"/>
<line x1="105.7" y1="633.0" x2="827" y2="633.0"/>
<line x1="105.7" y1="778.4" x2="827" y2="778.4"/>
</g>
<rect x="104.4" y="101.6" width="728.1" height="727.8" fill="none" stroke="#000" stroke-width="2.6"/>
</g>
<text x="95.40" y="201.80" font-size="13.5" text-anchor="end" fill="#000" >32°N</text>
<text x="95.40" y="347.20" font-size="13.5" text-anchor="end" fill="#000" >30°N</text>
<text x="95.40" y="492.60" font-size="13.5" text-anchor="end" fill="#000" >28°N</text>
<text x="95.40" y="638.00" font-size="13.5" text-anchor="end" fill="#000" >26°N</text>
<text x="95.40" y="783.40" font-size="13.5" text-anchor="end" fill="#000" >24°N</text>
<text x="160.90" y="851.20" font-size="13.5" text-anchor="middle" fill="#000" >72°W</text>
<text x="306.30" y="851.20" font-size="13.5" text-anchor="middle" fill="#000" >70°W</text>
<text x="451.70" y="851.20" font-size="13.5" text-anchor="middle" fill="#000" >68°W</text>
<text x="597.10" y="851.20" font-size="13.5" text-anchor="middle" fill="#000" >66°W</text>
<text x="742.50" y="851.20" font-size="13.5" text-anchor="middle" fill="#000" >64°W</text>
<text x="970.40" y="201.80" font-size="13.5" text-anchor="end" fill="#000" >32°N</text>
<text x="970.40" y="347.20" font-size="13.5" text-anchor="end" fill="#000" >30°N</text>
<text x="970.40" y="492.60" font-size="13.5" text-anchor="end" fill="#000" >28°N</text>
<text x="970.40" y="638.00" font-size="13.5" text-anchor="end" fill="#000" >26°N</text>
<text x="970.40" y="783.40" font-size="13.5" text-anchor="end" fill="#000" >24°N</text>
<text x="1035.90" y="851.20" font-size="13.5" text-anchor="middle" fill="#000" >72°W</text>
<text x="1181.30" y="851.20" font-size="13.5" text-anchor="middle" fill="#000" >70°W</text>
<text x="1326.70" y="851.20" font-size="13.5" text-anchor="middle" fill="#000" >68°W</text>
<text x="1472.10" y="851.20" font-size="13.5" text-anchor="middle" fill="#000" >66°W</text>
<text x="1617.50" y="851.20" font-size="13.5" text-anchor="middle" fill="#000" >64°W</text>
<defs>
<linearGradient id="cbL" x1="0" y1="0" x2="0" y2="1"><stop offset="0" stop-color="#000"/><stop offset="1" stop-color="#fff"/></linearGradient>
</defs>
<rect x="839.4" y="101.2" width="15.2" height="728.2" fill="url(#cbL)" stroke="#000" stroke-width="1.2"/>
<text x="848.80" y="94.00" font-size="16.0" text-anchor="start" fill="#000" >°C</text>
<text x="861.00" y="161.17" font-size="16.4" text-anchor="start" fill="#000" >40</text>
<text x="861.00" y="215.14" font-size="16.4" text-anchor="start" fill="#000" >30</text>
<text x="861.00" y="269.11" font-size="16.4" text-anchor="start" fill="#000" >20</text>
<text x="861.00" y="323.08" font-size="16.4" text-anchor="start" fill="#000" >10</text>
<text x="861.00" y="377.05" font-size="16.4" text-anchor="start" fill="#000" >0</text>
<text x="861.00" y="431.02" font-size="16.4" text-anchor="start" fill="#000" >−10</text>
<text x="861.00" y="484.99" font-size="16.4" text-anchor="start" fill="#000" >−20</text>
<text x="861.00" y="538.96" font-size="16.4" text-anchor="start" fill="#000" >−30</text>
<text x="861.00" y="592.93" font-size="16.4" text-anchor="start" fill="#000" >−40</text>
<text x="861.00" y="646.90" font-size="16.4" text-anchor="start" fill="#000" >−50</text>
<text x="861.00" y="700.87" font-size="16.4" text-anchor="start" fill="#000" >−60</text>
<text x="861.00" y="754.84" font-size="16.4" text-anchor="start" fill="#000" >−70</text>
<text x="861.00" y="808.81" font-size="16.4" text-anchor="start" fill="#000" >−80</text>
<defs><linearGradient id="cbR" gradientUnits="userSpaceOnUse" x1="0" y1="343.9" x2="0" y2="829.7"><stop offset="0.0000" stop-color="#5e2a78"/><stop offset="0.0300" stop-color="#5a3488"/><stop offset="0.0700" stop-color="#3b4ea8"/><stop offset="0.1100" stop-color="#1f68d8"/><stop offset="0.1400" stop-color="#0d80ff"/><stop offset="0.1900" stop-color="#3aa8ff"/><stop offset="0.2400" stop-color="#5fd8ff"/><stop offset="0.2800" stop-color="#7ffcff"/><stop offset="0.3050" stop-color="#80ffc8"/><stop offset="0.3500" stop-color="#88f088"/><stop offset="0.3860" stop-color="#c8f070"/><stop offset="0.4240" stop-color="#fff470"/><stop offset="0.4480" stop-color="#ffdc60"/><stop offset="0.4760" stop-color="#ffb440"/><stop offset="0.5100" stop-color="#ff8c08"/><stop offset="0.5430" stop-color="#e86800"/><stop offset="0.5900" stop-color="#c84400"/><stop offset="0.6380" stop-color="#a02000"/><stop offset="0.6850" stop-color="#820000"/><stop offset="1.0000" stop-color="#800000"/></linearGradient></defs>
<rect x="1714.2" y="101.2" width="15.4" height="242.7" fill="#fff"/>
<rect x="1714.2" y="343.9" width="15.4" height="485.5" fill="url(#cbR)"/>
<rect x="1714.2" y="101.2" width="15.4" height="728.2" fill="none" stroke="#000" stroke-width="1.2"/>
<text x="1722.60" y="94.00" font-size="16.0" text-anchor="start" fill="#000" >°C</text>
<text x="1735.80" y="155.78" font-size="16.4" text-anchor="start" fill="#000" >40</text>
<text x="1735.80" y="204.36" font-size="16.4" text-anchor="start" fill="#000" >30</text>
<text x="1735.80" y="252.94" font-size="16.4" text-anchor="start" fill="#000" >20</text>
<text x="1735.80" y="301.52" font-size="16.4" text-anchor="start" fill="#000" >10</text>
<text x="1735.80" y="350.10" font-size="16.4" text-anchor="start" fill="#000" >0</text>
<text x="1735.80" y="398.68" font-size="16.4" text-anchor="start" fill="#000" >−10</text>
<text x="1735.80" y="447.26" font-size="16.4" text-anchor="start" fill="#000" >−20</text>
<text x="1735.80" y="495.84" font-size="16.4" text-anchor="start" fill="#000" >−30</text>
<text x="1735.80" y="544.42" font-size="16.4" text-anchor="start" fill="#000" >−40</text>
<text x="1735.80" y="593.00" font-size="16.4" text-anchor="start" fill="#000" >−50</text>
<text x="1735.80" y="641.58" font-size="16.4" text-anchor="start" fill="#000" >−60</text>
<text x="1735.80" y="690.16" font-size="16.4" text-anchor="start" fill="#000" >−70</text>
<text x="1735.80" y="738.74" font-size="16.4" text-anchor="start" fill="#000" >−80</text>
<text x="1735.80" y="787.32" font-size="16.4" text-anchor="start" fill="#000" >−90</text>
<clipPath id="clipU"><rect x="104.7" y="904.2" width="749.5999999999999" height="374.0"/></clipPath>
<clipPath id="clipD"><rect x="104.7" y="1278.2" width="749.5999999999999" height="373.5999999999999"/></clipPath>
<g clip-path="url(#clipU)">
<polyline points="135.60,1261.30 152.73,1261.30 169.86,1261.30 186.99,1261.30 204.12,1261.30 221.25,1247.09 238.38,1247.09 255.51,1232.88 272.64,1232.88 289.77,1218.66 306.90,1204.45 324.03,1204.45 341.16,1204.45 358.29,1176.02 375.42,1161.81 392.55,1133.39 409.68,1104.96 426.81,1048.11 443.94,977.05 461.07,948.62 478.20,948.62 495.33,934.41 512.46,920.20 529.59,934.41 546.72,948.62 563.85,962.84 580.98,977.05 598.11,991.26 615.24,962.84" fill="none" stroke="#0000ff" stroke-width="5.6" stroke-linejoin="round" />
<polyline points="615.24,962.84 632.37,977.05 649.50,991.26 666.63,1005.47 683.76,1019.69 700.89,1033.90 718.02,1048.11 735.15,1055.22 752.28,1062.33 769.41,1076.54 786.54,1090.75 803.67,1097.86 820.80,1104.96" fill="none" stroke="#0000ff" stroke-width="5.6" stroke-dasharray="5.6 9.2" stroke-linejoin="round" />
</g>
<rect x="114.2" y="913.1" width="278.20000000000005" height="62.30000000000005" rx="4.5" fill="#fff" fill-opacity="0.8" stroke="#cccccc" stroke-opacity="0.8" stroke-width="3.4"/>
<line x1="119" y1="928.4" x2="162" y2="928.4" stroke="#0000ff" stroke-width="5.6"/>
<line x1="118.8" y1="957.6" x2="162" y2="957.6" stroke="#0000ff" stroke-width="5.6" stroke-dasharray="5.6 9.2" stroke-dashoffset="-1.2"/>
<text x="175.00" y="935.30" font-size="19.1" text-anchor="start" fill="#000" >Wind[max=140]</text>
<text x="175.00" y="964.50" font-size="19.1" text-anchor="start" fill="#000" >Wind Fore.[max=125]</text>
<g clip-path="url(#clipU)">
<polyline points="135.60,920.36 152.73,920.36 169.86,920.36 186.99,920.36 204.12,920.36 221.25,924.28 238.38,924.28 255.51,924.28 272.64,924.28 289.77,932.10 306.90,936.01 324.03,936.01 341.16,939.93 358.29,963.40 375.42,971.23 392.55,1002.53 409.68,1033.83 426.81,1096.43 443.94,1190.33 461.07,1221.62 478.20,1221.62 495.33,1241.19 512.46,1260.75 529.59,1241.19 546.72,1221.62 563.85,1209.89 580.98,1245.10 598.11,1225.54 615.24,1205.98" fill="none" stroke="#1f77b4" stroke-width="5.6" stroke-linejoin="round" />
</g>
<rect x="626.0" y="912.8000000000001" width="218.00000000000009" height="34.399999999999956" rx="4.5" fill="#fff" fill-opacity="0.8" stroke="#cccccc" stroke-opacity="0.8" stroke-width="3.4"/>
<line x1="631.7" y1="928.6" x2="673.8" y2="928.6" stroke="#1f77b4" stroke-width="5.6"/>
<text x="686.00" y="935.50" font-size="19.1" text-anchor="start" fill="#000" >Pres.[min=924]</text>
<g clip-path="url(#clipD)">
<polyline points="135.60,1635.80 152.73,1635.80 169.86,1635.80 186.99,1635.80 204.12,1635.80 221.25,1635.80 238.38,1635.80 255.51,1635.80 272.64,1635.80 289.77,1634.50 306.90,1632.81 324.03,1631.12 341.16,1629.43 358.29,1626.78 375.42,1623.58 392.55,1619.11 409.68,1613.17 426.81,1603.62 443.94,1588.39 461.07,1570.51 478.20,1552.64 495.33,1533.36 512.46,1512.63 529.59,1493.35 546.72,1475.48 563.85,1458.95 580.98,1443.72 598.11,1429.73 615.24,1413.21" fill="none" stroke="#008000" stroke-width="5.2" stroke-linejoin="round" />
<polyline points="615.24,1413.21 632.37,1397.98 649.50,1383.99 666.63,1371.19 683.76,1359.53 700.89,1348.95 718.02,1339.41 735.15,1330.36 752.28,1321.79 769.41,1314.15 786.54,1307.38 803.67,1301.02 820.80,1295.08" fill="none" stroke="#008000" stroke-width="5.2" stroke-dasharray="5.3 8.7" stroke-linejoin="round" />
</g>
<rect x="114.0" y="1288.1000000000001" width="311.1" height="61.79999999999982" rx="4.5" fill="#fff" fill-opacity="0.8" stroke="#cccccc" stroke-opacity="0.8" stroke-width="3.4"/>
<line x1="118.8" y1="1303.1" x2="162.3" y2="1303.1" stroke="#008000" stroke-width="5.2"/>
<line x1="118.8" y1="1332.2" x2="162.3" y2="1332.2" stroke="#008000" stroke-width="5.2" stroke-dasharray="5.3 8.7" stroke-dashoffset="-2.4"/>
<text x="174.00" y="1310.00" font-size="19.1" text-anchor="start" fill="#000" >ACE[max=21.045]</text>
<text x="174.00" y="1338.90" font-size="19.1" text-anchor="start" fill="#000" >ACE Fore.[max=32.2138]</text>
<rect x="104.7" y="904.2" width="749.5999999999999" height="374.0" fill="none" stroke="#000" stroke-width="2.5"/>
<rect x="104.7" y="1278.2" width="749.5999999999999" height="373.5999999999999" fill="none" stroke="#000" stroke-width="2.5"/>
<text x="78.00" y="1266.30" font-size="13.4" text-anchor="end" fill="#000" >20</text>
<text x="78.00" y="1209.45" font-size="13.4" text-anchor="end" fill="#000" >40</text>
<text x="78.00" y="1152.60" font-size="13.4" text-anchor="end" fill="#000" >60</text>
<text x="78.00" y="1095.75" font-size="13.4" text-anchor="end" fill="#000" >80</text>
<text x="78.00" y="1038.90" font-size="13.4" text-anchor="end" fill="#000" >100</text>
<text x="78.00" y="982.05" font-size="13.4" text-anchor="end" fill="#000" >120</text>
<text x="78.00" y="925.20" font-size="13.4" text-anchor="end" fill="#000" >140</text>
<text x="878.40" y="1281.40" font-size="13.4" text-anchor="start" fill="#000" >920</text>
<text x="878.40" y="1203.15" font-size="13.4" text-anchor="start" fill="#000" >940</text>
<text x="878.40" y="1124.90" font-size="13.4" text-anchor="start" fill="#000" >960</text>
<text x="878.40" y="1046.65" font-size="13.4" text-anchor="start" fill="#000" >980</text>
<text x="878.40" y="968.40" font-size="13.4" text-anchor="start" fill="#000" >1000</text>
<text x="78.00" y="1640.80" font-size="13.4" text-anchor="end" fill="#000" >0</text>
<text x="78.00" y="1587.91" font-size="13.4" text-anchor="end" fill="#000" >5</text>
<text x="78.00" y="1535.03" font-size="13.4" text-anchor="end" fill="#000" >10</text>
<text x="78.00" y="1482.14" font-size="13.4" text-anchor="end" fill="#000" >15</text>
<text x="78.00" y="1429.26" font-size="13.4" text-anchor="end" fill="#000" >20</text>
<text x="78.00" y="1376.38" font-size="13.4" text-anchor="end" fill="#000" >25</text>
<text x="78.00" y="1323.49" font-size="13.4" text-anchor="end" fill="#000" >30</text>
<path d="M93.1,1261.3H104.7 M93.1,1204.5H104.7 M93.1,1147.6H104.7 M93.1,1090.8H104.7 M93.1,1033.9H104.7 M93.1,977.0H104.7 M93.1,920.2H104.7 M854.3,1276.4H865.9 M854.3,1198.2H865.9 M854.3,1119.9H865.9 M854.3,1041.7H865.9 M854.3,963.4H865.9 M93.1,1635.8H104.7 M93.1,1582.9H104.7 M93.1,1530.0H104.7 M93.1,1477.1H104.7 M93.1,1424.3H104.7 M93.1,1371.4H104.7 M93.1,1318.5H104.7" stroke="#000" stroke-width="2.5" fill="none"/>
<text x="0.00" y="0.00" font-size="13.5" text-anchor="middle" fill="#000" transform="translate(35.6,1092.1) rotate(-90)">Wind</text>
<text x="0.00" y="0.00" font-size="13.5" text-anchor="middle" fill="#000" transform="translate(44.4,1466.4) rotate(-90)">ACE</text>
<text x="0.00" y="0.00" font-size="13.5" text-anchor="middle" fill="#000" transform="translate(938.3,1092.8) rotate(-90)">Pressure</text>
<text x="479.30" y="882.30" font-size="22.6" text-anchor="middle" fill="#000" >Wind / Pres. / ACE Diagnosis</text>
<rect x="979.5" y="903.5" width="750.8" height="749" fill="#000"/>
<clipPath id="clipW"><rect x="980.5" y="904.5" width="748.8" height="747"/></clipPath>
<g clip-path="url(#clipW)">
<rect x="979" y="1648.8" width="760" height="10" fill="#fff"/>
<polygon points="1252.0,904.7 1331.8,904.7 1331.8,918.1 1315.0,918.1 1313.8,934.7 1297.2,934.7 1296.5,950.8 1280.4,950.8 1278.1,985.0 1261.9,985.0 1256.8,1051.9 1192.7,1051.9 1192.0,1068.5 1159.9,1068.5 1163.4,1019.6 1180.0,1019.6 1180.0,1003.0 1196.8,1003.0 1198.0,986.2 1230.8,985.0 1232.4,952.2 1248.8,951.5" fill="#ffffff"/>
<polygon points="1103.8,952.7 1121.2,952.7 1121.2,949.5 1153.0,949.5 1153.0,952.7 1135.7,952.7 1135.7,969.8 1103.8,969.8" fill="#ffffff"/>
<polygon points="1321.2,1034.4 1336.9,1034.4 1334.2,1083.8 1317.3,1084.2 1315.7,1117.7 1284.3,1117.7 1284.3,1101.5 1301.2,1101.1 1301.2,1085.4 1253.8,1085.4 1252.7,1101.5 1219.9,1102.0 1219.9,1118.8 1204.2,1118.8 1205.8,1086.5 1223.2,1086.1 1223.2,1069.2 1256.2,1069.2 1256.2,1052.4 1320.8,1051.0" fill="#a0a0a0"/>
<polygon points="1324.2,1201.5 1362.3,1200.1 1362.3,1233.8 1338.1,1233.8 1338.5,1216.9 1324.2,1216.9" fill="#a0a0a0"/>
<polygon points="1258.5,1235.4 1304.6,1234.2 1304.6,1250.8 1288.0,1250.8 1287.3,1267.7 1271.2,1267.7 1270.7,1287.3 1255.2,1287.3 1256.2,1250.4" fill="#ffffff"/>
<polygon points="1556.1,904.7 1620.0,904.7 1620.0,913.9 1650.7,913.9 1650.0,930.8 1696.8,930.1 1696.2,963.1 1710.7,963.1 1710.0,979.9 1728.0,979.9 1727.3,1180.0 1725.0,1180.0 1725.0,1163.2 1710.0,1163.2 1711.6,1130.4 1665.0,1129.9 1666.6,1097.4 1651.2,1097.4 1651.2,1113.8 1635.0,1113.8 1635.0,1098.1 1603.8,1098.1 1605.7,1065.3 1575.0,1064.8 1575.0,1048.0 1513.2,1048.5 1513.8,1016.2 1451.1,1015.5 1451.5,1000.0 1388.1,1000.0 1388.1,1016.8 1355.8,1016.8 1355.8,1001.2 1372.6,1001.2 1373.1,983.8 1405.8,983.8 1407.0,967.0 1423.8,967.0 1424.3,949.9 1456.8,949.9 1457.3,933.1 1489.8,932.6 1490.8,916.2 1556.1,914.6" fill="#ffffff"/>
<polygon points="1568.1,948.1 1583.8,948.1 1583.8,964.2 1568.1,964.2" fill="#898989"/>
<polygon points="1582.6,964.9 1598.8,964.9 1598.1,980.8 1581.9,980.8" fill="#898989"/>
<polygon points="1700.1,904.9 1728.0,904.9 1728.0,912.8 1700.1,912.8" fill="#a0a0a0"/>
<polygon points="1345.4,1200.1 1388.1,1200.1 1386.2,1233.1 1345.4,1233.8" fill="#a0a0a0"/>
<polygon points="1379.5,1099.9 1411.8,1099.9 1410.0,1132.7 1377.7,1133.8" fill="#ffffff"/>
<polygon points="1469.3,1182.3 1485.0,1182.3 1483.8,1199.2 1468.2,1198.7" fill="#ffffff"/>
<polygon points="1483.4,1199.2 1515.0,1199.2 1515.0,1214.8 1561.8,1214.8 1560.5,1247.6 1575.0,1247.6 1574.5,1263.8 1588.8,1263.8 1588.8,1280.8 1525.4,1280.8 1525.8,1264.9 1495.4,1264.9 1495.8,1231.9 1482.0,1231.9" fill="#ffffff"/>
<polygon points="1609.2,1214.2 1625.1,1214.2 1625.1,1231.2 1640.1,1231.2 1639.6,1247.6 1670.1,1247.6 1669.6,1262.6 1653.0,1263.1 1651.8,1287.3 1621.2,1287.3 1621.2,1263.8 1606.2,1263.8 1606.2,1248.1 1591.8,1248.1 1591.8,1231.2 1609.2,1231.2" fill="#a0a0a0"/>
<polygon points="1048.0,1269.2 1095.8,1269.2 1095.8,1285.8 1110.3,1285.8 1110.3,1302.7 1125.1,1302.7 1125.1,1318.8 1155.8,1318.8 1155.8,1335.0 1170.1,1335.0 1170.1,1351.6 1200.8,1351.2 1200.8,1368.0 1215.3,1368.0 1215.3,1384.2 1230.1,1384.2 1230.1,1401.2 1197.3,1401.2 1193.8,1450.8 1177.0,1450.8 1177.0,1466.5 1161.1,1466.5 1161.5,1450.8 1114.9,1450.8 1116.8,1419.2 1102.0,1419.2 1102.0,1401.9 1086.8,1401.9 1086.8,1386.2 1056.1,1386.2 1054.2,1418.5 1069.2,1418.5 1069.2,1434.7 1083.8,1434.7 1083.1,1452.0 1098.1,1452.0 1098.1,1467.7 1065.8,1467.7 1065.8,1452.0 1036.2,1452.0 1035.8,1435.8 1020.8,1435.8 1020.8,1419.2 1006.9,1419.2 1009.7,1353.0 995.8,1353.0 999.5,1287.0 1048.0,1287.0" fill="#ffffff"/>
<polygon points="1203.1,1318.2 1234.9,1318.2 1234.9,1334.3 1281.5,1334.3 1281.1,1350.0 1311.5,1350.0 1309.7,1382.8 1295.4,1382.8 1295.4,1366.6 1264.2,1366.6 1264.2,1350.7 1234.2,1350.7 1234.2,1334.5 1203.1,1334.5" fill="#a0a0a0"/>
<polygon points="1316.2,1299.9 1331.8,1299.9 1329.3,1332.7 1362.3,1332.7 1362.3,1365.5 1343.8,1365.5 1343.8,1349.5 1329.3,1349.5 1329.3,1333.4 1298.8,1333.4 1298.8,1317.2 1316.2,1317.2" fill="#a0a0a0"/>
<polygon points="1340.4,1399.6 1362.3,1399.6 1362.3,1531.2 1297.7,1531.6 1297.7,1548.5 1281.1,1549.2 1279.7,1564.6 1216.2,1566.2 1216.2,1581.9 1245.8,1581.9 1245.8,1598.8 1260.8,1598.8 1261.2,1614.2 1338.8,1614.2 1338.8,1630.4 1243.0,1632.2 1241.6,1648.4 1036.9,1650.0 1036.9,1633.8 1021.9,1633.8 1023.5,1617.7 1070.8,1616.5 1070.8,1601.1 1056.1,1601.1 1057.0,1584.2 1009.9,1584.2 1009.9,1568.1 995.8,1568.1 995.8,1551.9 980.8,1551.9 980.8,1502.3 983.4,1502.3 983.4,1518.5 1013.8,1519.2 1013.8,1534.6 1030.0,1534.6 1030.5,1518.0 1045.0,1518.0 1045.0,1534.6 1091.8,1534.2 1091.8,1550.8 1137.8,1550.1 1137.8,1566.9 1170.1,1566.9 1170.1,1549.6 1155.3,1549.6 1154.6,1533.9 1140.1,1533.5 1141.2,1517.3 1158.1,1517.3 1158.1,1501.2 1222.0,1500.0 1222.0,1483.8 1238.8,1483.4 1240.0,1467.2 1256.2,1467.2 1257.3,1450.4 1273.9,1449.7 1273.9,1433.5 1306.9,1433.1 1306.9,1416.5 1340.4,1415.8" fill="#a0a0a0"/>
<polygon points="1069.9,1617.0 1085.8,1617.0 1085.8,1632.7 1069.9,1632.7" fill="#000000"/>
<polygon points="1117.2,1616.1 1148.4,1616.1 1148.4,1632.7 1117.2,1632.7" fill="#000000"/>
<polygon points="1148.4,1632.7 1163.4,1632.7 1163.4,1648.8 1148.4,1648.8" fill="#000000"/>
<polygon points="1525.4,1270.4 1588.8,1270.4 1588.8,1280.8 1572.0,1280.8 1569.7,1313.8 1554.2,1313.8 1554.7,1298.1 1539.9,1298.1 1539.9,1280.8 1525.4,1280.8" fill="#ffffff"/>
<polygon points="1380.0,1299.9 1443.0,1299.2 1443.0,1316.1 1457.8,1316.1 1456.2,1349.3 1470.7,1349.3 1470.7,1364.5 1453.8,1365.0 1452.7,1381.6 1438.2,1381.6 1438.8,1349.3 1392.7,1349.3 1392.7,1333.2 1378.2,1333.2" fill="#ffffff"/>
<polygon points="1345.4,1333.2 1360.8,1333.2 1360.8,1350.0 1375.4,1350.0 1374.9,1365.7 1345.4,1365.7" fill="#a0a0a0"/>
<polygon points="1621.2,1270.4 1653.0,1270.4 1649.5,1312.6 1633.2,1313.1 1627.6,1379.5 1580.1,1380.0 1577.8,1413.5 1562.3,1413.5 1561.8,1397.3 1532.3,1397.3 1500.0,1397.8 1500.0,1381.2 1517.3,1381.2 1517.3,1364.3 1534.2,1363.8 1536.5,1331.1 1551.9,1331.1 1550.1,1363.8 1566.2,1363.8 1568.1,1331.1 1584.9,1330.6 1585.4,1314.2 1602.0,1313.8 1603.8,1281.2 1621.2,1281.2" fill="#a0a0a0"/>
<polygon points="1483.2,1398.5 1498.8,1398.5 1497.7,1413.5 1483.2,1413.5" fill="#a0a0a0"/>
<polygon points="1450.4,1415.1 1465.8,1415.1 1464.7,1430.8 1449.2,1430.8" fill="#a0a0a0"/>
<polygon points="1345.4,1399.6 1403.1,1399.2 1398.9,1464.9 1413.9,1464.9 1411.2,1514.5 1378.2,1515.0 1377.7,1530.5 1345.4,1531.6" fill="#a0a0a0"/>
<polygon points="1593.0,1413.0 1608.9,1413.0 1608.5,1429.6 1623.0,1429.6 1623.0,1445.8 1638.9,1445.8 1638.9,1428.9 1656.2,1428.5 1656.9,1412.3 1671.9,1411.8 1664.3,1527.7 1678.2,1527.7 1670.3,1643.8 1700.8,1642.6 1701.9,1626.9 1719.9,1626.9 1728.5,1510.4 1733.1,1510.4 1733.1,1658.1 1345.4,1658.1 1345.4,1646.5 1384.6,1646.5 1389.2,1581.5 1405.8,1580.8 1407.2,1547.3 1423.8,1546.8 1425.0,1531.2 1440.7,1530.7 1441.8,1514.3 1458.9,1513.8 1459.6,1497.7 1475.8,1497.0 1476.9,1464.7 1509.9,1463.8 1511.1,1446.9 1542.0,1446.9 1542.0,1462.6 1573.4,1462.6 1575.0,1430.1 1591.8,1429.6" fill="#ffffff"/>
</g>
<rect x="979.5" y="903.5" width="750.8" height="749" fill="none" stroke="#000" stroke-width="2.5"/>
<text x="997.00" y="938.80" font-size="20.85" text-anchor="start" fill="#fff" font-weight="bold" >WMG Count: 0</text>
</svg>
</body></html>
